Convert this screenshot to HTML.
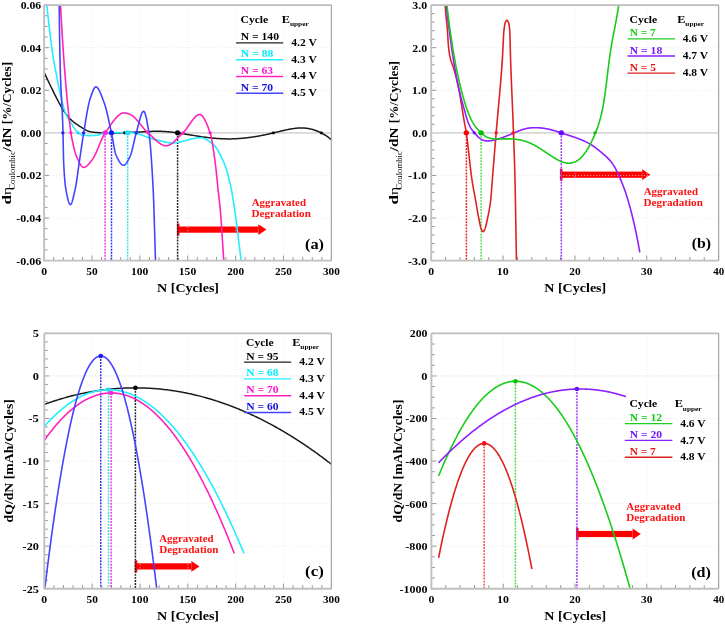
<!DOCTYPE html><html><head><meta charset="utf-8"><style>html,body{margin:0;padding:0;background:#fff;width:725px;height:624px;overflow:hidden;position:relative}</style></head><body><svg width="725" height="624" viewBox="0 0 725 624" style="position:absolute;left:0;top:0;will-change:transform;font-family:'Liberation Serif',serif;font-weight:bold">
<rect width="725" height="624" fill="#ffffff"/>
<rect x="176.90" y="223.50" width="2.6" height="12.2" fill="#ee1122"/>
<rect x="177.50" y="226.50" width="80.80" height="6.2" fill="#ff0000"/>
<path d="M258.30,224.20 L266.50,229.60 L258.30,235.00 Z" fill="#ff0000"/>
<line x1="91.98" y1="5.1" x2="91.98" y2="260.6" stroke="#e6e6e6" stroke-width="0.8" stroke-dasharray="1 2"/>
<line x1="139.87" y1="5.1" x2="139.87" y2="260.6" stroke="#e6e6e6" stroke-width="0.8" stroke-dasharray="1 2"/>
<line x1="187.75" y1="5.1" x2="187.75" y2="260.6" stroke="#e6e6e6" stroke-width="0.8" stroke-dasharray="1 2"/>
<line x1="235.63" y1="5.1" x2="235.63" y2="260.6" stroke="#e6e6e6" stroke-width="0.8" stroke-dasharray="1 2"/>
<line x1="283.52" y1="5.1" x2="283.52" y2="260.6" stroke="#e6e6e6" stroke-width="0.8" stroke-dasharray="1 2"/>
<line x1="44.1" y1="218.02" x2="331.4" y2="218.02" stroke="#e6e6e6" stroke-width="0.8" stroke-dasharray="1 2"/>
<line x1="44.1" y1="175.43" x2="331.4" y2="175.43" stroke="#e6e6e6" stroke-width="0.8" stroke-dasharray="1 2"/>
<line x1="44.1" y1="132.85" x2="331.4" y2="132.85" stroke="#e6e6e6" stroke-width="0.8" stroke-dasharray="1 2"/>
<line x1="44.1" y1="90.27" x2="331.4" y2="90.27" stroke="#e6e6e6" stroke-width="0.8" stroke-dasharray="1 2"/>
<line x1="44.1" y1="47.68" x2="331.4" y2="47.68" stroke="#e6e6e6" stroke-width="0.8" stroke-dasharray="1 2"/>
<line x1="44.10" y1="260.6" x2="44.10" y2="255.60000000000002" stroke="#8a8a8a" stroke-width="0.9"/>
<line x1="53.68" y1="260.6" x2="53.68" y2="257.1" stroke="#8a8a8a" stroke-width="0.9"/>
<line x1="63.25" y1="260.6" x2="63.25" y2="257.1" stroke="#8a8a8a" stroke-width="0.9"/>
<line x1="72.83" y1="260.6" x2="72.83" y2="257.1" stroke="#8a8a8a" stroke-width="0.9"/>
<line x1="82.41" y1="260.6" x2="82.41" y2="257.1" stroke="#8a8a8a" stroke-width="0.9"/>
<line x1="91.98" y1="260.6" x2="91.98" y2="255.60000000000002" stroke="#8a8a8a" stroke-width="0.9"/>
<line x1="101.56" y1="260.6" x2="101.56" y2="257.1" stroke="#8a8a8a" stroke-width="0.9"/>
<line x1="111.14" y1="260.6" x2="111.14" y2="257.1" stroke="#8a8a8a" stroke-width="0.9"/>
<line x1="120.71" y1="260.6" x2="120.71" y2="257.1" stroke="#8a8a8a" stroke-width="0.9"/>
<line x1="130.29" y1="260.6" x2="130.29" y2="257.1" stroke="#8a8a8a" stroke-width="0.9"/>
<line x1="139.87" y1="260.6" x2="139.87" y2="255.60000000000002" stroke="#8a8a8a" stroke-width="0.9"/>
<line x1="149.44" y1="260.6" x2="149.44" y2="257.1" stroke="#8a8a8a" stroke-width="0.9"/>
<line x1="159.02" y1="260.6" x2="159.02" y2="257.1" stroke="#8a8a8a" stroke-width="0.9"/>
<line x1="168.60" y1="260.6" x2="168.60" y2="257.1" stroke="#8a8a8a" stroke-width="0.9"/>
<line x1="178.17" y1="260.6" x2="178.17" y2="257.1" stroke="#8a8a8a" stroke-width="0.9"/>
<line x1="187.75" y1="260.6" x2="187.75" y2="255.60000000000002" stroke="#8a8a8a" stroke-width="0.9"/>
<line x1="197.33" y1="260.6" x2="197.33" y2="257.1" stroke="#8a8a8a" stroke-width="0.9"/>
<line x1="206.90" y1="260.6" x2="206.90" y2="257.1" stroke="#8a8a8a" stroke-width="0.9"/>
<line x1="216.48" y1="260.6" x2="216.48" y2="257.1" stroke="#8a8a8a" stroke-width="0.9"/>
<line x1="226.06" y1="260.6" x2="226.06" y2="257.1" stroke="#8a8a8a" stroke-width="0.9"/>
<line x1="235.63" y1="260.6" x2="235.63" y2="255.60000000000002" stroke="#8a8a8a" stroke-width="0.9"/>
<line x1="245.21" y1="260.6" x2="245.21" y2="257.1" stroke="#8a8a8a" stroke-width="0.9"/>
<line x1="254.79" y1="260.6" x2="254.79" y2="257.1" stroke="#8a8a8a" stroke-width="0.9"/>
<line x1="264.36" y1="260.6" x2="264.36" y2="257.1" stroke="#8a8a8a" stroke-width="0.9"/>
<line x1="273.94" y1="260.6" x2="273.94" y2="257.1" stroke="#8a8a8a" stroke-width="0.9"/>
<line x1="283.52" y1="260.6" x2="283.52" y2="255.60000000000002" stroke="#8a8a8a" stroke-width="0.9"/>
<line x1="293.09" y1="260.6" x2="293.09" y2="257.1" stroke="#8a8a8a" stroke-width="0.9"/>
<line x1="302.67" y1="260.6" x2="302.67" y2="257.1" stroke="#8a8a8a" stroke-width="0.9"/>
<line x1="312.25" y1="260.6" x2="312.25" y2="257.1" stroke="#8a8a8a" stroke-width="0.9"/>
<line x1="321.82" y1="260.6" x2="321.82" y2="257.1" stroke="#8a8a8a" stroke-width="0.9"/>
<line x1="331.40" y1="260.6" x2="331.40" y2="255.60000000000002" stroke="#8a8a8a" stroke-width="0.9"/>
<line x1="44.1" y1="260.60" x2="49.1" y2="260.60" stroke="#8a8a8a" stroke-width="0.9"/>
<line x1="44.1" y1="249.95" x2="47.6" y2="249.95" stroke="#8a8a8a" stroke-width="0.9"/>
<line x1="44.1" y1="239.31" x2="47.6" y2="239.31" stroke="#8a8a8a" stroke-width="0.9"/>
<line x1="44.1" y1="228.66" x2="47.6" y2="228.66" stroke="#8a8a8a" stroke-width="0.9"/>
<line x1="44.1" y1="218.02" x2="49.1" y2="218.02" stroke="#8a8a8a" stroke-width="0.9"/>
<line x1="44.1" y1="207.37" x2="47.6" y2="207.37" stroke="#8a8a8a" stroke-width="0.9"/>
<line x1="44.1" y1="196.73" x2="47.6" y2="196.73" stroke="#8a8a8a" stroke-width="0.9"/>
<line x1="44.1" y1="186.08" x2="47.6" y2="186.08" stroke="#8a8a8a" stroke-width="0.9"/>
<line x1="44.1" y1="175.43" x2="49.1" y2="175.43" stroke="#8a8a8a" stroke-width="0.9"/>
<line x1="44.1" y1="164.79" x2="47.6" y2="164.79" stroke="#8a8a8a" stroke-width="0.9"/>
<line x1="44.1" y1="154.14" x2="47.6" y2="154.14" stroke="#8a8a8a" stroke-width="0.9"/>
<line x1="44.1" y1="143.50" x2="47.6" y2="143.50" stroke="#8a8a8a" stroke-width="0.9"/>
<line x1="44.1" y1="132.85" x2="49.1" y2="132.85" stroke="#8a8a8a" stroke-width="0.9"/>
<line x1="44.1" y1="122.20" x2="47.6" y2="122.20" stroke="#8a8a8a" stroke-width="0.9"/>
<line x1="44.1" y1="111.56" x2="47.6" y2="111.56" stroke="#8a8a8a" stroke-width="0.9"/>
<line x1="44.1" y1="100.91" x2="47.6" y2="100.91" stroke="#8a8a8a" stroke-width="0.9"/>
<line x1="44.1" y1="90.27" x2="49.1" y2="90.27" stroke="#8a8a8a" stroke-width="0.9"/>
<line x1="44.1" y1="79.62" x2="47.6" y2="79.62" stroke="#8a8a8a" stroke-width="0.9"/>
<line x1="44.1" y1="68.97" x2="47.6" y2="68.97" stroke="#8a8a8a" stroke-width="0.9"/>
<line x1="44.1" y1="58.33" x2="47.6" y2="58.33" stroke="#8a8a8a" stroke-width="0.9"/>
<line x1="44.1" y1="47.68" x2="49.1" y2="47.68" stroke="#8a8a8a" stroke-width="0.9"/>
<line x1="44.1" y1="37.04" x2="47.6" y2="37.04" stroke="#8a8a8a" stroke-width="0.9"/>
<line x1="44.1" y1="26.39" x2="47.6" y2="26.39" stroke="#8a8a8a" stroke-width="0.9"/>
<line x1="44.1" y1="15.75" x2="47.6" y2="15.75" stroke="#8a8a8a" stroke-width="0.9"/>
<line x1="44.1" y1="5.10" x2="49.1" y2="5.10" stroke="#8a8a8a" stroke-width="0.9"/>
<clipPath id="ca"><rect x="44.1" y="5.1" width="287.29999999999995" height="255.50000000000003"/></clipPath>
<line x1="44.1" y1="132.85" x2="331.4" y2="132.85" stroke="#d8d8d8" stroke-width="1.6"/>
<line x1="105.10" y1="132.85" x2="105.10" y2="260.60" stroke="#ff33dd" stroke-width="1.5" stroke-dasharray="1.9 1.15"/>
<line x1="111.50" y1="132.85" x2="111.50" y2="260.60" stroke="#3333ee" stroke-width="1.5" stroke-dasharray="1.9 1.15"/>
<line x1="127.65" y1="132.85" x2="127.65" y2="260.60" stroke="#33ddee" stroke-width="1.5" stroke-dasharray="1.9 1.15"/>
<line x1="177.60" y1="132.85" x2="177.60" y2="260.60" stroke="#222222" stroke-width="1.5" stroke-dasharray="1.9 1.15"/>
<path d="M44.10,72.30 L44.82,73.84 L45.54,75.37 L46.26,76.91 L46.98,78.43 L47.70,79.95 L48.42,81.47 L49.14,82.98 L49.86,84.48 L50.58,85.97 L51.30,87.46 L52.02,88.94 L52.74,90.41 L53.46,91.87 L54.18,93.32 L54.90,94.76 L55.62,96.19 L56.34,97.60 L57.06,99.01 L57.78,100.40 L58.50,101.77 L59.22,103.12 L59.94,104.44 L60.66,105.74 L61.38,107.00 L62.10,108.22 L62.82,109.40 L63.54,110.53 L64.26,111.62 L64.98,112.65 L65.70,113.65 L66.42,114.60 L67.14,115.50 L67.86,116.37 L68.58,117.20 L69.30,117.98 L70.02,118.74 L70.74,119.45 L71.46,120.14 L72.18,120.79 L72.90,121.41 L73.62,122.01 L74.34,122.58 L75.06,123.13 L75.78,123.66 L76.50,124.17 L77.22,124.67 L77.94,125.15 L78.66,125.62 L79.38,126.08 L80.10,126.53 L80.82,126.97 L81.54,127.42 L82.26,127.86 L82.98,128.29 L83.70,128.73 L84.42,129.16 L85.14,129.58 L85.86,129.97 L86.58,130.34 L87.30,130.69 L88.02,130.99 L88.74,131.26 L89.46,131.48 L90.18,131.67 L90.90,131.83 L91.62,131.97 L92.34,132.08 L93.06,132.17 L93.78,132.25 L94.50,132.32 L95.22,132.39 L95.94,132.46 L96.66,132.53 L97.38,132.60 L98.10,132.67 L98.82,132.74 L99.54,132.81 L100.26,132.87 L100.98,132.93 L101.70,132.99 L102.42,133.05 L103.14,133.10 L103.86,133.15 L104.58,133.19 L105.30,133.22 L106.02,133.25 L106.74,133.28 L107.46,133.29 L108.18,133.30 L108.90,133.31 L109.62,133.31 L110.34,133.31 L111.06,133.30 L111.78,133.29 L112.50,133.27 L113.22,133.25 L113.94,133.22 L114.66,133.19 L115.38,133.16 L116.11,133.12 L116.83,133.08 L117.55,133.03 L118.27,132.99 L118.99,132.94 L119.71,132.89 L120.43,132.84 L121.15,132.79 L121.87,132.73 L122.59,132.68 L123.31,132.64 L124.03,132.59 L124.75,132.55 L125.47,132.51 L126.19,132.47 L126.91,132.44 L127.63,132.41 L128.35,132.38 L129.07,132.35 L129.79,132.33 L130.51,132.31 L131.23,132.28 L131.95,132.26 L132.67,132.24 L133.39,132.22 L134.11,132.20 L134.83,132.18 L135.55,132.16 L136.27,132.14 L136.99,132.12 L137.71,132.09 L138.43,132.07 L139.15,132.04 L139.87,132.01 L140.59,131.97 L141.31,131.94 L142.03,131.90 L142.75,131.86 L143.47,131.82 L144.19,131.78 L144.91,131.73 L145.63,131.69 L146.35,131.65 L147.07,131.61 L147.79,131.56 L148.51,131.52 L149.23,131.49 L149.95,131.45 L150.67,131.42 L151.39,131.38 L152.11,131.36 L152.83,131.33 L153.55,131.31 L154.27,131.29 L154.99,131.28 L155.71,131.27 L156.43,131.27 L157.15,131.27 L157.87,131.28 L158.59,131.29 L159.31,131.30 L160.03,131.32 L160.75,131.34 L161.47,131.36 L162.19,131.39 L162.91,131.43 L163.63,131.46 L164.35,131.51 L165.07,131.55 L165.79,131.60 L166.51,131.65 L167.23,131.70 L167.95,131.76 L168.67,131.82 L169.39,131.89 L170.11,131.96 L170.83,132.03 L171.55,132.10 L172.27,132.18 L172.99,132.26 L173.71,132.35 L174.43,132.43 L175.15,132.52 L175.87,132.62 L176.59,132.71 L177.31,132.81 L178.03,132.91 L178.75,133.01 L179.47,133.12 L180.19,133.23 L180.91,133.34 L181.63,133.45 L182.35,133.56 L183.07,133.68 L183.79,133.79 L184.51,133.91 L185.23,134.03 L185.95,134.15 L186.67,134.27 L187.39,134.40 L188.11,134.52 L188.83,134.64 L189.55,134.76 L190.27,134.89 L190.99,135.01 L191.71,135.14 L192.43,135.26 L193.15,135.38 L193.87,135.50 L194.59,135.63 L195.31,135.75 L196.03,135.87 L196.75,135.98 L197.47,136.10 L198.19,136.22 L198.91,136.33 L199.63,136.44 L200.35,136.55 L201.07,136.66 L201.79,136.77 L202.51,136.87 L203.23,136.97 L203.95,137.07 L204.67,137.17 L205.39,137.27 L206.11,137.36 L206.83,137.45 L207.55,137.54 L208.27,137.63 L208.99,137.71 L209.71,137.79 L210.43,137.87 L211.15,137.95 L211.87,138.02 L212.59,138.09 L213.31,138.16 L214.03,138.22 L214.75,138.29 L215.47,138.35 L216.19,138.40 L216.91,138.46 L217.63,138.51 L218.35,138.56 L219.07,138.60 L219.79,138.65 L220.51,138.69 L221.23,138.72 L221.95,138.76 L222.67,138.79 L223.39,138.81 L224.11,138.84 L224.83,138.86 L225.55,138.87 L226.27,138.89 L226.99,138.90 L227.71,138.90 L228.43,138.91 L229.15,138.91 L229.87,138.90 L230.59,138.89 L231.31,138.88 L232.03,138.87 L232.75,138.85 L233.47,138.83 L234.19,138.80 L234.91,138.77 L235.63,138.74 L236.35,138.70 L237.07,138.66 L237.79,138.62 L238.51,138.58 L239.23,138.53 L239.95,138.47 L240.67,138.42 L241.39,138.36 L242.11,138.30 L242.83,138.23 L243.55,138.16 L244.27,138.09 L244.99,138.02 L245.71,137.94 L246.43,137.86 L247.15,137.77 L247.87,137.69 L248.59,137.59 L249.31,137.50 L250.03,137.41 L250.75,137.31 L251.47,137.20 L252.19,137.10 L252.91,136.99 L253.63,136.88 L254.35,136.77 L255.07,136.65 L255.79,136.53 L256.51,136.41 L257.23,136.29 L257.95,136.16 L258.67,136.03 L259.39,135.90 L260.12,135.77 L260.84,135.63 L261.56,135.50 L262.28,135.35 L263.00,135.21 L263.72,135.07 L264.44,134.92 L265.16,134.77 L265.88,134.62 L266.60,134.47 L267.32,134.31 L268.04,134.15 L268.76,133.99 L269.48,133.83 L270.20,133.67 L270.92,133.51 L271.64,133.34 L272.36,133.17 L273.08,133.00 L273.80,132.83 L274.52,132.66 L275.24,132.49 L275.96,132.31 L276.68,132.14 L277.40,131.96 L278.12,131.79 L278.84,131.61 L279.56,131.44 L280.28,131.26 L281.00,131.09 L281.72,130.92 L282.44,130.75 L283.16,130.58 L283.88,130.42 L284.60,130.26 L285.32,130.10 L286.04,129.94 L286.76,129.79 L287.48,129.64 L288.20,129.50 L288.92,129.36 L289.64,129.22 L290.36,129.09 L291.08,128.96 L291.80,128.84 L292.52,128.73 L293.24,128.62 L293.96,128.52 L294.68,128.42 L295.40,128.34 L296.12,128.26 L296.84,128.18 L297.56,128.12 L298.28,128.06 L299.00,128.02 L299.72,127.98 L300.44,127.96 L301.16,127.95 L301.88,127.95 L302.60,127.96 L303.32,127.98 L304.04,128.02 L304.76,128.07 L305.48,128.13 L306.20,128.21 L306.92,128.30 L307.64,128.41 L308.36,128.53 L309.08,128.66 L309.80,128.80 L310.52,128.96 L311.24,129.14 L311.96,129.32 L312.68,129.52 L313.40,129.73 L314.12,129.95 L314.84,130.19 L315.56,130.44 L316.28,130.71 L317.00,130.99 L317.72,131.28 L318.44,131.59 L319.16,131.91 L319.88,132.24 L320.60,132.60 L321.32,132.96 L322.04,133.34 L322.76,133.73 L323.48,134.14 L324.20,134.57 L324.92,135.01 L325.64,135.47 L326.36,135.94 L327.08,136.43 L327.80,136.93 L328.52,137.45 L329.24,137.99 L329.96,138.54 L330.68,139.11 L331.40,139.70" stroke="#1a1a1a" stroke-width="1.5" fill="none" stroke-linejoin="round" clip-path="url(#ca)"/>
<path d="M46.90,5.20 L47.39,10.13 L47.88,14.92 L48.37,19.55 L48.87,24.05 L49.36,28.40 L49.85,32.60 L50.34,36.66 L50.83,40.58 L51.32,44.36 L51.81,47.99 L52.31,51.48 L52.80,54.83 L53.29,58.04 L53.78,61.10 L54.27,63.94 L54.76,66.58 L55.26,69.08 L55.75,71.50 L56.24,73.90 L56.73,76.34 L57.22,78.85 L57.71,81.40 L58.20,83.95 L58.70,86.48 L59.19,88.95 L59.68,91.34 L60.17,93.61 L60.66,95.74 L61.15,97.76 L61.64,99.77 L62.14,101.74 L62.63,103.65 L63.12,105.50 L63.61,107.27 L64.10,108.95 L64.59,110.52 L65.08,111.96 L65.58,113.26 L66.07,114.42 L66.56,115.48 L67.05,116.47 L67.54,117.39 L68.03,118.26 L68.53,119.08 L69.02,119.88 L69.51,120.65 L70.00,121.41 L70.49,122.16 L70.98,122.93 L71.47,123.71 L71.97,124.50 L72.46,125.30 L72.95,126.09 L73.44,126.87 L73.93,127.63 L74.42,128.36 L74.91,129.06 L75.41,129.73 L75.90,130.35 L76.39,130.91 L76.88,131.42 L77.37,131.86 L77.86,132.27 L78.35,132.68 L78.85,133.07 L79.34,133.44 L79.83,133.79 L80.32,134.11 L80.81,134.39 L81.30,134.63 L81.79,134.82 L82.29,134.96 L82.78,135.05 L83.27,135.12 L83.76,135.20 L84.25,135.26 L84.74,135.33 L85.24,135.38 L85.73,135.44 L86.22,135.48 L86.71,135.52 L87.20,135.55 L87.69,135.57 L88.18,135.59 L88.68,135.60 L89.17,135.60 L89.66,135.60 L90.15,135.59 L90.64,135.58 L91.13,135.57 L91.62,135.56 L92.12,135.54 L92.61,135.52 L93.10,135.50 L93.59,135.48 L94.08,135.45 L94.57,135.43 L95.06,135.40 L95.56,135.37 L96.05,135.34 L96.54,135.30 L97.03,135.26 L97.52,135.18 L98.01,135.07 L98.51,134.94 L99.00,134.79 L99.49,134.64 L99.98,134.47 L100.47,134.31 L100.96,134.14 L101.45,133.99 L101.95,133.85 L102.44,133.73 L102.93,133.64 L103.42,133.57 L103.91,133.51 L104.40,133.45 L104.89,133.40 L105.39,133.35 L105.88,133.30 L106.37,133.25 L106.86,133.20 L107.35,133.16 L107.84,133.12 L108.33,133.08 L108.83,133.04 L109.32,133.01 L109.81,132.97 L110.30,132.94 L110.79,132.91 L111.28,132.89 L111.78,132.86 L112.27,132.84 L112.76,132.81 L113.25,132.79 L113.74,132.77 L114.23,132.75 L114.72,132.73 L115.22,132.71 L115.71,132.69 L116.20,132.67 L116.69,132.66 L117.18,132.64 L117.67,132.62 L118.16,132.60 L118.66,132.58 L119.15,132.57 L119.64,132.55 L120.13,132.54 L120.62,132.52 L121.11,132.51 L121.60,132.49 L122.10,132.48 L122.59,132.47 L123.08,132.46 L123.57,132.45 L124.06,132.44 L124.55,132.43 L125.05,132.42 L125.54,132.42 L126.03,132.41 L126.52,132.41 L127.01,132.40 L127.50,132.40 L127.99,132.40 L128.49,132.41 L128.98,132.42 L129.47,132.45 L129.96,132.49 L130.45,132.54 L130.94,132.60 L131.43,132.66 L131.93,132.74 L132.42,132.82 L132.91,132.91 L133.40,133.00 L133.89,133.10 L134.38,133.20 L134.87,133.31 L135.37,133.42 L135.86,133.53 L136.35,133.65 L136.84,133.77 L137.33,133.88 L137.82,134.00 L138.32,134.12 L138.81,134.23 L139.30,134.35 L139.79,134.47 L140.28,134.61 L140.77,134.75 L141.26,134.91 L141.76,135.07 L142.25,135.25 L142.74,135.42 L143.23,135.61 L143.72,135.80 L144.21,135.99 L144.70,136.18 L145.20,136.38 L145.69,136.57 L146.18,136.77 L146.67,136.96 L147.16,137.15 L147.65,137.34 L148.14,137.52 L148.64,137.69 L149.13,137.86 L149.62,138.02 L150.11,138.17 L150.60,138.32 L151.09,138.46 L151.58,138.60 L152.08,138.74 L152.57,138.88 L153.06,139.01 L153.55,139.14 L154.04,139.28 L154.53,139.41 L155.03,139.53 L155.52,139.66 L156.01,139.78 L156.50,139.91 L156.99,140.03 L157.48,140.15 L157.97,140.27 L158.47,140.38 L158.96,140.50 L159.45,140.61 L159.94,140.72 L160.43,140.83 L160.92,140.94 L161.41,141.05 L161.91,141.16 L162.40,141.28 L162.89,141.40 L163.38,141.52 L163.87,141.65 L164.36,141.77 L164.85,141.90 L165.35,142.02 L165.84,142.14 L166.33,142.26 L166.82,142.37 L167.31,142.48 L167.80,142.58 L168.30,142.67 L168.79,142.75 L169.28,142.82 L169.77,142.89 L170.26,142.93 L170.75,142.97 L171.24,142.99 L171.74,143.00 L172.23,142.99 L172.72,142.98 L173.21,142.96 L173.70,142.93 L174.19,142.89 L174.68,142.84 L175.18,142.79 L175.67,142.73 L176.16,142.66 L176.65,142.59 L177.14,142.51 L177.63,142.42 L178.12,142.33 L178.62,142.24 L179.11,142.14 L179.60,142.03 L180.09,141.92 L180.58,141.81 L181.07,141.69 L181.57,141.57 L182.06,141.45 L182.55,141.33 L183.04,141.20 L183.53,141.07 L184.02,140.94 L184.51,140.81 L185.01,140.67 L185.50,140.54 L185.99,140.41 L186.48,140.27 L186.97,140.14 L187.46,140.00 L187.95,139.87 L188.45,139.74 L188.94,139.61 L189.43,139.48 L189.92,139.35 L190.41,139.23 L190.90,139.11 L191.39,138.99 L191.89,138.88 L192.38,138.77 L192.87,138.66 L193.36,138.56 L193.85,138.46 L194.34,138.37 L194.84,138.28 L195.33,138.20 L195.82,138.12 L196.31,138.05 L196.80,137.99 L197.29,137.93 L197.78,137.88 L198.28,137.84 L198.77,137.80 L199.26,137.78 L199.75,137.76 L200.24,137.75 L200.73,137.75 L201.22,137.78 L201.72,137.84 L202.21,137.92 L202.70,138.02 L203.19,138.15 L203.68,138.31 L204.17,138.48 L204.66,138.68 L205.16,138.90 L205.65,139.13 L206.14,139.39 L206.63,139.66 L207.12,139.95 L207.61,140.25 L208.11,140.57 L208.60,140.90 L209.09,141.24 L209.58,141.59 L210.07,141.95 L210.56,142.32 L211.05,142.70 L211.55,143.08 L212.04,143.48 L212.53,143.87 L213.02,144.27 L213.51,144.68 L214.00,145.13 L214.49,145.63 L214.99,146.19 L215.48,146.79 L215.97,147.43 L216.46,148.12 L216.95,148.86 L217.44,149.63 L217.93,150.44 L218.43,151.28 L218.92,152.16 L219.41,153.07 L219.90,154.01 L220.39,154.98 L220.88,155.97 L221.37,156.99 L221.87,158.03 L222.36,159.09 L222.85,160.17 L223.34,161.27 L223.83,162.45 L224.32,163.69 L224.82,165.00 L225.31,166.38 L225.80,167.83 L226.29,169.35 L226.78,170.93 L227.27,172.59 L227.76,174.31 L228.26,176.10 L228.75,177.96 L229.24,179.88 L229.73,181.88 L230.22,183.95 L230.71,186.23 L231.20,188.69 L231.70,191.34 L232.19,194.14 L232.68,197.07 L233.17,200.10 L233.66,203.22 L234.15,206.41 L234.64,209.64 L235.14,212.96 L235.63,216.46 L236.12,220.12 L236.61,223.92 L237.10,227.83 L237.59,231.82 L238.09,235.87 L238.58,239.95 L239.07,244.04 L239.56,248.12 L240.05,252.15 L240.54,256.12 L241.03,259.99 L241.53,263.78 L242.02,267.54 L242.51,271.28 L243.00,275.00" stroke="#22eeff" stroke-width="1.6" fill="none" stroke-linejoin="round" clip-path="url(#ca)"/>
<path d="M60.50,5.20 L60.91,12.62 L61.32,19.84 L61.74,26.86 L62.15,33.67 L62.56,40.26 L62.97,46.61 L63.39,52.73 L63.80,58.59 L64.21,64.22 L64.62,69.66 L65.04,74.91 L65.45,79.98 L65.86,84.86 L66.27,89.57 L66.68,94.11 L67.10,98.46 L67.51,102.72 L67.92,106.92 L68.33,111.04 L68.75,115.04 L69.16,118.89 L69.57,122.56 L69.98,126.02 L70.39,129.24 L70.81,132.18 L71.22,134.81 L71.63,137.15 L72.04,139.25 L72.46,141.21 L72.87,143.15 L73.28,145.04 L73.69,146.88 L74.11,148.63 L74.52,150.28 L74.93,151.80 L75.34,153.17 L75.75,154.37 L76.17,155.40 L76.58,156.39 L76.99,157.37 L77.40,158.34 L77.82,159.29 L78.23,160.22 L78.64,161.11 L79.05,161.97 L79.46,162.79 L79.88,163.56 L80.29,164.28 L80.70,164.94 L81.11,165.53 L81.53,166.05 L81.94,166.50 L82.35,166.86 L82.76,167.13 L83.18,167.32 L83.59,167.40 L84.00,167.38 L84.41,167.31 L84.82,167.19 L85.24,167.01 L85.65,166.79 L86.06,166.52 L86.47,166.22 L86.89,165.88 L87.30,165.50 L87.71,165.10 L88.12,164.66 L88.54,164.21 L88.95,163.74 L89.36,163.25 L89.77,162.75 L90.18,162.24 L90.60,161.73 L91.01,161.22 L91.42,160.71 L91.83,160.20 L92.25,159.69 L92.66,159.13 L93.07,158.52 L93.48,157.85 L93.89,157.14 L94.31,156.39 L94.72,155.59 L95.13,154.76 L95.54,153.90 L95.96,153.00 L96.37,152.08 L96.78,151.14 L97.19,150.18 L97.61,149.21 L98.02,148.22 L98.43,147.23 L98.84,146.23 L99.25,145.23 L99.67,144.23 L100.08,143.24 L100.49,142.26 L100.90,141.29 L101.32,140.34 L101.73,139.41 L102.14,138.51 L102.55,137.63 L102.96,136.78 L103.38,135.96 L103.79,135.19 L104.20,134.45 L104.61,133.77 L105.03,133.13 L105.44,132.53 L105.85,131.94 L106.26,131.34 L106.68,130.75 L107.09,130.14 L107.50,129.54 L107.91,128.93 L108.32,128.32 L108.74,127.72 L109.15,127.11 L109.56,126.51 L109.97,125.91 L110.39,125.31 L110.80,124.72 L111.21,124.13 L111.62,123.55 L112.04,122.97 L112.45,122.40 L112.86,121.84 L113.27,121.29 L113.68,120.75 L114.10,120.22 L114.51,119.71 L114.92,119.20 L115.33,118.71 L115.75,118.23 L116.16,117.77 L116.57,117.32 L116.98,116.89 L117.39,116.48 L117.81,116.08 L118.22,115.71 L118.63,115.35 L119.04,115.02 L119.46,114.70 L119.87,114.41 L120.28,114.14 L120.69,113.90 L121.11,113.68 L121.52,113.48 L121.93,113.32 L122.34,113.18 L122.75,113.06 L123.17,112.98 L123.58,112.92 L123.99,112.90 L124.40,112.91 L124.82,112.93 L125.23,112.98 L125.64,113.04 L126.05,113.12 L126.46,113.22 L126.88,113.33 L127.29,113.45 L127.70,113.58 L128.11,113.72 L128.53,113.86 L128.94,114.01 L129.35,114.16 L129.76,114.31 L130.18,114.47 L130.59,114.65 L131.00,114.85 L131.41,115.08 L131.82,115.34 L132.24,115.61 L132.65,115.91 L133.06,116.24 L133.47,116.58 L133.89,116.94 L134.30,117.32 L134.71,117.71 L135.12,118.12 L135.54,118.55 L135.95,118.99 L136.36,119.44 L136.77,119.90 L137.18,120.38 L137.60,120.86 L138.01,121.35 L138.42,121.85 L138.83,122.36 L139.25,122.86 L139.66,123.38 L140.07,123.89 L140.48,124.41 L140.89,124.93 L141.31,125.45 L141.72,125.96 L142.13,126.48 L142.54,126.98 L142.96,127.49 L143.37,127.99 L143.78,128.48 L144.19,128.96 L144.61,129.44 L145.02,129.90 L145.43,130.35 L145.84,130.79 L146.25,131.22 L146.67,131.63 L147.08,132.03 L147.49,132.41 L147.90,132.77 L148.32,133.12 L148.73,133.48 L149.14,133.84 L149.55,134.21 L149.96,134.59 L150.38,134.97 L150.79,135.36 L151.20,135.75 L151.61,136.14 L152.03,136.54 L152.44,136.94 L152.85,137.33 L153.26,137.73 L153.68,138.13 L154.09,138.52 L154.50,138.91 L154.91,139.30 L155.32,139.68 L155.74,140.06 L156.15,140.44 L156.56,140.81 L156.97,141.17 L157.39,141.52 L157.80,141.86 L158.21,142.20 L158.62,142.52 L159.04,142.84 L159.45,143.14 L159.86,143.43 L160.27,143.71 L160.68,143.97 L161.10,144.22 L161.51,144.46 L161.92,144.67 L162.33,144.87 L162.75,145.06 L163.16,145.22 L163.57,145.37 L163.98,145.49 L164.39,145.60 L164.81,145.68 L165.22,145.75 L165.63,145.78 L166.04,145.80 L166.46,145.79 L166.87,145.75 L167.28,145.69 L167.69,145.60 L168.11,145.48 L168.52,145.34 L168.93,145.18 L169.34,145.00 L169.75,144.79 L170.17,144.57 L170.58,144.32 L170.99,144.06 L171.40,143.78 L171.82,143.48 L172.23,143.17 L172.64,142.85 L173.05,142.51 L173.46,142.15 L173.88,141.79 L174.29,141.42 L174.70,141.03 L175.11,140.64 L175.53,140.24 L175.94,139.84 L176.35,139.42 L176.76,139.01 L177.18,138.58 L177.59,138.16 L178.00,137.73 L178.41,137.31 L178.82,136.88 L179.24,136.45 L179.65,136.03 L180.06,135.61 L180.47,135.19 L180.89,134.77 L181.30,134.37 L181.71,133.96 L182.12,133.57 L182.54,133.18 L182.95,132.81 L183.36,132.42 L183.77,132.00 L184.18,131.55 L184.60,131.09 L185.01,130.60 L185.42,130.09 L185.83,129.56 L186.25,129.02 L186.66,128.46 L187.07,127.89 L187.48,127.31 L187.89,126.72 L188.31,126.12 L188.72,125.52 L189.13,124.92 L189.54,124.32 L189.96,123.71 L190.37,123.11 L190.78,122.52 L191.19,121.93 L191.61,121.35 L192.02,120.78 L192.43,120.22 L192.84,119.68 L193.25,119.15 L193.67,118.65 L194.08,118.16 L194.49,117.69 L194.90,117.25 L195.32,116.83 L195.73,116.44 L196.14,116.09 L196.55,115.76 L196.96,115.46 L197.38,115.21 L197.79,114.98 L198.20,114.80 L198.61,114.66 L199.03,114.56 L199.44,114.51 L199.85,114.51 L200.26,114.57 L200.68,114.71 L201.09,114.93 L201.50,115.21 L201.91,115.57 L202.32,115.98 L202.74,116.47 L203.15,117.01 L203.56,117.61 L203.97,118.26 L204.39,118.97 L204.80,119.72 L205.21,120.53 L205.62,121.38 L206.04,122.27 L206.45,123.21 L206.86,124.18 L207.27,125.18 L207.68,126.22 L208.10,127.30 L208.51,128.39 L208.92,129.52 L209.33,130.66 L209.75,131.83 L210.16,133.02 L210.57,134.38 L210.98,136.00 L211.39,137.85 L211.81,139.92 L212.22,142.19 L212.63,144.64 L213.04,147.25 L213.46,150.02 L213.87,152.91 L214.28,155.90 L214.69,159.00 L215.11,162.16 L215.52,165.39 L215.93,168.65 L216.34,172.05 L216.75,176.01 L217.17,180.32 L217.58,184.72 L217.99,188.95 L218.40,192.79 L218.82,196.36 L219.23,199.84 L219.64,203.46 L220.05,207.40 L220.46,211.87 L220.88,217.05 L221.29,222.81 L221.70,228.97 L222.11,235.38 L222.53,241.86 L222.94,248.23 L223.35,254.35 L223.76,260.02 L224.18,265.24 L224.59,270.21 L225.00,275.00" stroke="#ff22bb" stroke-width="1.6" fill="none" stroke-linejoin="round" clip-path="url(#ca)"/>
<path d="M59.20,5.20 L59.44,24.40 L59.69,42.50 L59.93,56.85 L60.17,66.34 L60.41,74.15 L60.66,80.76 L60.90,86.41 L61.14,91.37 L61.38,95.87 L61.63,100.18 L61.87,104.53 L62.11,109.18 L62.35,114.38 L62.60,120.38 L62.84,127.42 L63.08,136.28 L63.32,150.18 L63.57,160.38 L63.81,165.47 L64.05,169.95 L64.29,173.88 L64.54,177.29 L64.78,180.25 L65.02,182.81 L65.27,185.00 L65.51,186.90 L65.75,188.53 L65.99,189.96 L66.24,191.29 L66.48,192.58 L66.72,193.83 L66.96,195.04 L67.21,196.20 L67.45,197.30 L67.69,198.35 L67.93,199.34 L68.18,200.25 L68.42,201.09 L68.66,201.86 L68.90,202.54 L69.15,203.13 L69.39,203.63 L69.63,204.03 L69.87,204.33 L70.12,204.52 L70.36,204.60 L70.60,204.55 L70.85,204.38 L71.09,204.09 L71.33,203.69 L71.57,203.19 L71.82,202.59 L72.06,201.91 L72.30,201.15 L72.54,200.32 L72.79,199.43 L73.03,198.49 L73.27,197.51 L73.51,196.50 L73.76,195.45 L74.00,194.39 L74.24,193.32 L74.48,192.25 L74.73,191.18 L74.97,190.13 L75.21,189.05 L75.45,187.87 L75.70,186.59 L75.94,185.22 L76.18,183.77 L76.43,182.25 L76.67,180.67 L76.91,179.04 L77.15,177.36 L77.40,175.65 L77.64,173.91 L77.88,172.16 L78.12,170.39 L78.37,168.63 L78.61,166.88 L78.85,165.14 L79.09,163.44 L79.34,161.76 L79.58,160.14 L79.82,158.53 L80.06,156.91 L80.31,155.27 L80.55,153.61 L80.79,151.95 L81.03,150.29 L81.28,148.62 L81.52,146.96 L81.76,145.30 L82.01,143.66 L82.25,142.03 L82.49,140.42 L82.73,138.83 L82.98,137.27 L83.22,135.74 L83.46,134.24 L83.70,132.78 L83.95,131.33 L84.19,129.87 L84.43,128.39 L84.67,126.91 L84.92,125.42 L85.16,123.93 L85.40,122.44 L85.64,120.95 L85.89,119.48 L86.13,118.01 L86.37,116.56 L86.61,115.13 L86.86,113.73 L87.10,112.35 L87.34,111.00 L87.58,109.68 L87.83,108.40 L88.07,107.15 L88.31,105.95 L88.56,104.80 L88.80,103.70 L89.04,102.65 L89.28,101.66 L89.53,100.73 L89.77,99.87 L90.01,99.07 L90.25,98.34 L90.50,97.63 L90.74,96.92 L90.98,96.21 L91.22,95.51 L91.47,94.81 L91.71,94.12 L91.95,93.44 L92.19,92.78 L92.44,92.14 L92.68,91.52 L92.92,90.93 L93.16,90.36 L93.41,89.83 L93.65,89.33 L93.89,88.87 L94.14,88.45 L94.38,88.07 L94.62,87.74 L94.86,87.46 L95.11,87.24 L95.35,87.06 L95.59,86.95 L95.83,86.90 L96.08,86.91 L96.32,86.97 L96.56,87.06 L96.80,87.20 L97.05,87.37 L97.29,87.59 L97.53,87.84 L97.77,88.12 L98.02,88.44 L98.26,88.79 L98.50,89.17 L98.74,89.57 L98.99,90.01 L99.23,90.46 L99.47,90.95 L99.72,91.45 L99.96,91.97 L100.20,92.52 L100.44,93.08 L100.69,93.66 L100.93,94.25 L101.17,94.85 L101.41,95.46 L101.66,96.09 L101.90,96.72 L102.14,97.36 L102.38,98.00 L102.63,98.65 L102.87,99.30 L103.11,99.95 L103.35,100.59 L103.60,101.24 L103.84,101.88 L104.08,102.52 L104.32,103.18 L104.57,103.89 L104.81,104.63 L105.05,105.41 L105.30,106.22 L105.54,107.06 L105.78,107.93 L106.02,108.83 L106.27,109.76 L106.51,110.71 L106.75,111.69 L106.99,112.69 L107.24,113.70 L107.48,114.74 L107.72,115.79 L107.96,116.86 L108.21,117.93 L108.45,119.03 L108.69,120.13 L108.93,121.24 L109.18,122.35 L109.42,123.47 L109.66,124.59 L109.90,125.72 L110.15,126.84 L110.39,127.96 L110.63,129.08 L110.88,130.20 L111.12,131.30 L111.36,132.40 L111.60,133.50 L111.85,134.68 L112.09,135.93 L112.33,137.24 L112.57,138.58 L112.82,139.96 L113.06,141.36 L113.30,142.76 L113.54,144.15 L113.79,145.53 L114.03,146.87 L114.27,148.17 L114.51,149.41 L114.76,150.58 L115.00,151.67 L115.24,152.66 L115.48,153.54 L115.73,154.30 L115.97,154.93 L116.21,155.47 L116.46,156.00 L116.70,156.53 L116.94,157.04 L117.18,157.55 L117.43,158.05 L117.67,158.53 L117.91,159.01 L118.15,159.47 L118.40,159.93 L118.64,160.37 L118.88,160.79 L119.12,161.20 L119.37,161.60 L119.61,161.98 L119.85,162.34 L120.09,162.69 L120.34,163.01 L120.58,163.32 L120.82,163.61 L121.06,163.88 L121.31,164.13 L121.55,164.36 L121.79,164.56 L122.04,164.74 L122.28,164.90 L122.52,165.03 L122.76,165.14 L123.01,165.22 L123.25,165.27 L123.49,165.30 L123.73,165.29 L123.98,165.25 L124.22,165.18 L124.46,165.07 L124.70,164.92 L124.95,164.75 L125.19,164.54 L125.43,164.30 L125.67,164.04 L125.92,163.75 L126.16,163.44 L126.40,163.11 L126.64,162.75 L126.89,162.38 L127.13,161.98 L127.37,161.57 L127.62,161.15 L127.86,160.71 L128.10,160.26 L128.34,159.80 L128.59,159.33 L128.83,158.85 L129.07,158.37 L129.31,157.89 L129.56,157.40 L129.80,156.91 L130.04,156.42 L130.28,155.88 L130.53,155.27 L130.77,154.61 L131.01,153.88 L131.25,153.10 L131.50,152.27 L131.74,151.39 L131.98,150.48 L132.22,149.53 L132.47,148.55 L132.71,147.54 L132.95,146.52 L133.19,145.48 L133.44,144.42 L133.68,143.37 L133.92,142.30 L134.17,141.25 L134.41,140.20 L134.65,139.16 L134.89,138.14 L135.14,137.14 L135.38,136.17 L135.62,135.23 L135.86,134.32 L136.11,133.46 L136.35,132.64 L136.59,131.81 L136.83,130.95 L137.08,130.07 L137.32,129.16 L137.56,128.23 L137.80,127.29 L138.05,126.35 L138.29,125.39 L138.53,124.43 L138.77,123.48 L139.02,122.53 L139.26,121.59 L139.50,120.67 L139.75,119.77 L139.99,118.89 L140.23,118.04 L140.47,117.22 L140.72,116.43 L140.96,115.69 L141.20,114.99 L141.44,114.33 L141.69,113.73 L141.93,113.19 L142.17,112.70 L142.41,112.28 L142.66,111.93 L142.90,111.65 L143.14,111.45 L143.38,111.33 L143.63,111.30 L143.87,111.38 L144.11,111.58 L144.35,111.90 L144.60,112.34 L144.84,112.88 L145.08,113.52 L145.33,114.26 L145.57,115.09 L145.81,116.01 L146.05,117.01 L146.30,118.08 L146.54,119.22 L146.78,120.43 L147.02,121.69 L147.27,123.01 L147.51,124.37 L147.75,125.78 L147.99,127.23 L148.24,128.70 L148.48,130.20 L148.72,131.72 L148.96,133.27 L149.21,134.97 L149.45,136.88 L149.69,139.00 L149.93,141.32 L150.18,143.84 L150.42,146.55 L150.66,149.45 L150.91,152.53 L151.15,155.79 L151.39,159.23 L151.63,162.84 L151.88,166.62 L152.12,170.56 L152.36,174.66 L152.60,178.91 L152.85,183.32 L153.09,187.87 L153.33,192.71 L153.57,198.54 L153.82,205.28 L154.06,212.72 L154.30,220.66 L154.54,228.91 L154.79,237.26 L155.03,245.52 L155.27,253.48 L155.51,260.94 L155.76,268.02 L156.00,275.00" stroke="#4444ff" stroke-width="1.6" fill="none" stroke-linejoin="round" clip-path="url(#ca)"/>
<circle cx="62.90" cy="132.85" r="1.7" fill="#2222ee"/>
<circle cx="70.90" cy="132.85" r="1.7" fill="#ff22cc"/>
<circle cx="78.00" cy="132.85" r="1.7" fill="#22ddee"/>
<circle cx="83.60" cy="132.85" r="1.7" fill="#2222ee"/>
<circle cx="124.70" cy="132.85" r="1.7" fill="#111"/>
<circle cx="136.30" cy="132.85" r="1.7" fill="#2222ee"/>
<circle cx="148.00" cy="132.85" r="1.7" fill="#ff22cc"/>
<circle cx="182.90" cy="132.85" r="1.7" fill="#ff22cc"/>
<circle cx="210.10" cy="132.85" r="1.7" fill="#ff22cc"/>
<circle cx="273.30" cy="132.85" r="1.6" fill="#111"/>
<circle cx="321.30" cy="132.85" r="1.6" fill="#111"/>
<circle cx="105.25" cy="132.85" r="2.6" fill="#ff22dd"/>
<circle cx="111.45" cy="132.85" r="2.6" fill="#1a1aee"/>
<circle cx="127.65" cy="132.85" r="2.6" fill="#22ddee"/>
<circle cx="177.60" cy="132.85" r="2.6" fill="#000"/>
<path d="M44.1,5.1 L331.4,5.1" stroke="#bdbdbd" stroke-width="1.9" fill="none"/>
<path d="M331.4,5.1 L331.4,260.6" stroke="#a8a8a8" stroke-width="1.3" fill="none"/>
<path d="M44.1,5.1 L44.1,260.6 L331.4,260.6" stroke="#c0c0c0" stroke-width="1.9" fill="none" stroke-linejoin="round"/>
<rect x="559.90" y="168.60" width="2.6" height="12.2" fill="#ee1122"/>
<rect x="560.50" y="171.60" width="81.70" height="6.2" fill="#ff0000"/>
<path d="M642.20,169.30 L650.40,174.70 L642.20,180.10 Z" fill="#ff0000"/>
<line x1="503.05" y1="5.1" x2="503.05" y2="260.6" stroke="#e6e6e6" stroke-width="0.8" stroke-dasharray="1 2"/>
<line x1="574.90" y1="5.1" x2="574.90" y2="260.6" stroke="#e6e6e6" stroke-width="0.8" stroke-dasharray="1 2"/>
<line x1="646.75" y1="5.1" x2="646.75" y2="260.6" stroke="#e6e6e6" stroke-width="0.8" stroke-dasharray="1 2"/>
<line x1="431.2" y1="218.02" x2="718.6" y2="218.02" stroke="#e6e6e6" stroke-width="0.8" stroke-dasharray="1 2"/>
<line x1="431.2" y1="175.43" x2="718.6" y2="175.43" stroke="#e6e6e6" stroke-width="0.8" stroke-dasharray="1 2"/>
<line x1="431.2" y1="132.85" x2="718.6" y2="132.85" stroke="#e6e6e6" stroke-width="0.8" stroke-dasharray="1 2"/>
<line x1="431.2" y1="90.27" x2="718.6" y2="90.27" stroke="#e6e6e6" stroke-width="0.8" stroke-dasharray="1 2"/>
<line x1="431.2" y1="47.68" x2="718.6" y2="47.68" stroke="#e6e6e6" stroke-width="0.8" stroke-dasharray="1 2"/>
<line x1="431.20" y1="260.6" x2="431.20" y2="255.60000000000002" stroke="#8a8a8a" stroke-width="0.9"/>
<line x1="445.57" y1="260.6" x2="445.57" y2="257.1" stroke="#8a8a8a" stroke-width="0.9"/>
<line x1="459.94" y1="260.6" x2="459.94" y2="257.1" stroke="#8a8a8a" stroke-width="0.9"/>
<line x1="474.31" y1="260.6" x2="474.31" y2="257.1" stroke="#8a8a8a" stroke-width="0.9"/>
<line x1="488.68" y1="260.6" x2="488.68" y2="257.1" stroke="#8a8a8a" stroke-width="0.9"/>
<line x1="503.05" y1="260.6" x2="503.05" y2="255.60000000000002" stroke="#8a8a8a" stroke-width="0.9"/>
<line x1="517.42" y1="260.6" x2="517.42" y2="257.1" stroke="#8a8a8a" stroke-width="0.9"/>
<line x1="531.79" y1="260.6" x2="531.79" y2="257.1" stroke="#8a8a8a" stroke-width="0.9"/>
<line x1="546.16" y1="260.6" x2="546.16" y2="257.1" stroke="#8a8a8a" stroke-width="0.9"/>
<line x1="560.53" y1="260.6" x2="560.53" y2="257.1" stroke="#8a8a8a" stroke-width="0.9"/>
<line x1="574.90" y1="260.6" x2="574.90" y2="255.60000000000002" stroke="#8a8a8a" stroke-width="0.9"/>
<line x1="589.27" y1="260.6" x2="589.27" y2="257.1" stroke="#8a8a8a" stroke-width="0.9"/>
<line x1="603.64" y1="260.6" x2="603.64" y2="257.1" stroke="#8a8a8a" stroke-width="0.9"/>
<line x1="618.01" y1="260.6" x2="618.01" y2="257.1" stroke="#8a8a8a" stroke-width="0.9"/>
<line x1="632.38" y1="260.6" x2="632.38" y2="257.1" stroke="#8a8a8a" stroke-width="0.9"/>
<line x1="646.75" y1="260.6" x2="646.75" y2="255.60000000000002" stroke="#8a8a8a" stroke-width="0.9"/>
<line x1="661.12" y1="260.6" x2="661.12" y2="257.1" stroke="#8a8a8a" stroke-width="0.9"/>
<line x1="675.49" y1="260.6" x2="675.49" y2="257.1" stroke="#8a8a8a" stroke-width="0.9"/>
<line x1="689.86" y1="260.6" x2="689.86" y2="257.1" stroke="#8a8a8a" stroke-width="0.9"/>
<line x1="704.23" y1="260.6" x2="704.23" y2="257.1" stroke="#8a8a8a" stroke-width="0.9"/>
<line x1="718.60" y1="260.6" x2="718.60" y2="255.60000000000002" stroke="#8a8a8a" stroke-width="0.9"/>
<line x1="431.2" y1="260.60" x2="436.2" y2="260.60" stroke="#8a8a8a" stroke-width="0.9"/>
<line x1="431.2" y1="252.08" x2="434.7" y2="252.08" stroke="#8a8a8a" stroke-width="0.9"/>
<line x1="431.2" y1="243.57" x2="434.7" y2="243.57" stroke="#8a8a8a" stroke-width="0.9"/>
<line x1="431.2" y1="235.05" x2="434.7" y2="235.05" stroke="#8a8a8a" stroke-width="0.9"/>
<line x1="431.2" y1="226.53" x2="434.7" y2="226.53" stroke="#8a8a8a" stroke-width="0.9"/>
<line x1="431.2" y1="218.02" x2="436.2" y2="218.02" stroke="#8a8a8a" stroke-width="0.9"/>
<line x1="431.2" y1="209.50" x2="434.7" y2="209.50" stroke="#8a8a8a" stroke-width="0.9"/>
<line x1="431.2" y1="200.98" x2="434.7" y2="200.98" stroke="#8a8a8a" stroke-width="0.9"/>
<line x1="431.2" y1="192.47" x2="434.7" y2="192.47" stroke="#8a8a8a" stroke-width="0.9"/>
<line x1="431.2" y1="183.95" x2="434.7" y2="183.95" stroke="#8a8a8a" stroke-width="0.9"/>
<line x1="431.2" y1="175.43" x2="436.2" y2="175.43" stroke="#8a8a8a" stroke-width="0.9"/>
<line x1="431.2" y1="166.92" x2="434.7" y2="166.92" stroke="#8a8a8a" stroke-width="0.9"/>
<line x1="431.2" y1="158.40" x2="434.7" y2="158.40" stroke="#8a8a8a" stroke-width="0.9"/>
<line x1="431.2" y1="149.88" x2="434.7" y2="149.88" stroke="#8a8a8a" stroke-width="0.9"/>
<line x1="431.2" y1="141.37" x2="434.7" y2="141.37" stroke="#8a8a8a" stroke-width="0.9"/>
<line x1="431.2" y1="132.85" x2="436.2" y2="132.85" stroke="#8a8a8a" stroke-width="0.9"/>
<line x1="431.2" y1="124.33" x2="434.7" y2="124.33" stroke="#8a8a8a" stroke-width="0.9"/>
<line x1="431.2" y1="115.82" x2="434.7" y2="115.82" stroke="#8a8a8a" stroke-width="0.9"/>
<line x1="431.2" y1="107.30" x2="434.7" y2="107.30" stroke="#8a8a8a" stroke-width="0.9"/>
<line x1="431.2" y1="98.78" x2="434.7" y2="98.78" stroke="#8a8a8a" stroke-width="0.9"/>
<line x1="431.2" y1="90.27" x2="436.2" y2="90.27" stroke="#8a8a8a" stroke-width="0.9"/>
<line x1="431.2" y1="81.75" x2="434.7" y2="81.75" stroke="#8a8a8a" stroke-width="0.9"/>
<line x1="431.2" y1="73.23" x2="434.7" y2="73.23" stroke="#8a8a8a" stroke-width="0.9"/>
<line x1="431.2" y1="64.72" x2="434.7" y2="64.72" stroke="#8a8a8a" stroke-width="0.9"/>
<line x1="431.2" y1="56.20" x2="434.7" y2="56.20" stroke="#8a8a8a" stroke-width="0.9"/>
<line x1="431.2" y1="47.68" x2="436.2" y2="47.68" stroke="#8a8a8a" stroke-width="0.9"/>
<line x1="431.2" y1="39.17" x2="434.7" y2="39.17" stroke="#8a8a8a" stroke-width="0.9"/>
<line x1="431.2" y1="30.65" x2="434.7" y2="30.65" stroke="#8a8a8a" stroke-width="0.9"/>
<line x1="431.2" y1="22.13" x2="434.7" y2="22.13" stroke="#8a8a8a" stroke-width="0.9"/>
<line x1="431.2" y1="13.62" x2="434.7" y2="13.62" stroke="#8a8a8a" stroke-width="0.9"/>
<line x1="431.2" y1="5.10" x2="436.2" y2="5.10" stroke="#8a8a8a" stroke-width="0.9"/>
<clipPath id="cb"><rect x="431.2" y="5.1" width="287.40000000000003" height="255.50000000000003"/></clipPath>
<line x1="431.2" y1="132.85" x2="718.6" y2="132.85" stroke="#d8d8d8" stroke-width="1.6"/>
<line x1="466.40" y1="132.85" x2="466.40" y2="260.60" stroke="#ee2222" stroke-width="1.5" stroke-dasharray="1.9 1.15"/>
<line x1="481.10" y1="132.85" x2="481.10" y2="260.60" stroke="#55dd55" stroke-width="1.5" stroke-dasharray="1.9 1.15"/>
<line x1="561.30" y1="132.85" x2="561.30" y2="260.60" stroke="#9933ff" stroke-width="1.5" stroke-dasharray="1.9 1.15"/>
<path d="M445.00,0.00 L445.09,2.44 L445.18,4.61 L445.27,6.17 L445.36,7.61 L445.45,8.95 L445.54,10.22 L445.63,11.40 L445.72,12.52 L445.81,13.57 L445.90,14.58 L445.99,15.53 L446.08,16.45 L446.17,17.33 L446.26,18.19 L446.35,19.03 L446.44,19.86 L446.53,20.69 L446.62,21.52 L446.71,22.37 L446.79,23.23 L446.88,24.12 L446.97,25.04 L447.06,26.01 L447.15,27.02 L447.24,28.09 L447.33,29.23 L447.42,30.45 L447.51,31.76 L447.60,33.12 L447.69,34.54 L447.78,35.98 L447.87,37.43 L447.96,38.88 L448.05,40.31 L448.14,41.70 L448.23,43.03 L448.32,44.29 L448.41,45.45 L448.50,46.51 L448.59,47.45 L448.68,48.25 L448.77,48.99 L448.86,49.71 L448.95,50.40 L449.04,51.07 L449.13,51.71 L449.22,52.33 L449.31,52.93 L449.40,53.51 L449.49,54.06 L449.58,54.59 L449.67,55.11 L449.76,55.60 L449.85,56.08 L449.94,56.54 L450.03,56.99 L450.12,57.42 L450.20,57.83 L450.29,58.23 L450.38,58.62 L450.47,58.99 L450.56,59.36 L450.65,59.71 L450.74,60.05 L450.83,60.37 L450.92,60.69 L451.01,60.99 L451.10,61.28 L451.19,61.56 L451.28,61.83 L451.37,62.10 L451.46,62.35 L451.55,62.60 L451.64,62.85 L451.73,63.08 L451.82,63.32 L451.91,63.55 L452.00,63.77 L452.09,64.00 L452.18,64.22 L452.27,64.44 L452.36,64.66 L452.45,64.88 L452.54,65.11 L452.63,65.33 L452.72,65.56 L452.81,65.79 L452.90,66.03 L452.99,66.27 L453.08,66.52 L453.17,66.78 L453.26,67.04 L453.35,67.31 L453.44,67.59 L453.53,67.88 L453.61,68.18 L453.70,68.47 L453.79,68.77 L453.88,69.07 L453.97,69.37 L454.06,69.67 L454.15,69.98 L454.24,70.28 L454.33,70.59 L454.42,70.90 L454.51,71.21 L454.60,71.53 L454.69,71.84 L454.78,72.16 L454.87,72.48 L454.96,72.80 L455.05,73.13 L455.14,73.46 L455.23,73.78 L455.32,74.12 L455.41,74.45 L455.50,74.78 L455.59,75.12 L455.68,75.46 L455.77,75.80 L455.86,76.15 L455.95,76.50 L456.04,76.84 L456.13,77.20 L456.22,77.55 L456.31,77.91 L456.40,78.27 L456.49,78.63 L456.58,78.99 L456.67,79.36 L456.76,79.73 L456.85,80.10 L456.94,80.47 L457.02,80.85 L457.11,81.23 L457.20,81.61 L457.29,82.00 L457.38,82.38 L457.47,82.77 L457.56,83.17 L457.65,83.56 L457.74,83.96 L457.83,84.36 L457.92,84.77 L458.01,85.17 L458.10,85.58 L458.19,86.00 L458.28,86.41 L458.37,86.83 L458.46,87.26 L458.55,87.69 L458.64,88.13 L458.73,88.58 L458.82,89.04 L458.91,89.50 L459.00,89.96 L459.09,90.43 L459.18,90.91 L459.27,91.40 L459.36,91.88 L459.45,92.38 L459.54,92.88 L459.63,93.38 L459.72,93.89 L459.81,94.40 L459.90,94.92 L459.99,95.44 L460.08,95.96 L460.17,96.49 L460.26,97.02 L460.35,97.56 L460.43,98.09 L460.52,98.64 L460.61,99.18 L460.70,99.73 L460.79,100.27 L460.88,100.83 L460.97,101.38 L461.06,101.93 L461.15,102.49 L461.24,103.05 L461.33,103.61 L461.42,104.17 L461.51,104.73 L461.60,105.30 L461.69,105.86 L461.78,106.42 L461.87,106.99 L461.96,107.55 L462.05,108.12 L462.14,108.68 L462.23,109.24 L462.32,109.81 L462.41,110.37 L462.50,110.93 L462.59,111.49 L462.68,112.05 L462.77,112.60 L462.86,113.16 L462.95,113.71 L463.04,114.26 L463.13,114.81 L463.22,115.36 L463.31,115.90 L463.40,116.44 L463.49,116.98 L463.58,117.52 L463.67,118.05 L463.76,118.58 L463.84,119.10 L463.93,119.62 L464.02,120.14 L464.11,120.65 L464.20,121.15 L464.29,121.65 L464.38,122.14 L464.47,122.63 L464.56,123.12 L464.65,123.60 L464.74,124.08 L464.83,124.56 L464.92,125.05 L465.01,125.53 L465.10,126.01 L465.19,126.49 L465.28,126.98 L465.37,127.48 L465.46,127.97 L465.55,128.47 L465.64,128.98 L465.73,129.50 L465.82,130.02 L465.91,130.56 L466.00,131.10 L466.09,131.65 L466.18,132.21 L466.27,132.79 L466.36,133.38 L466.45,133.98 L466.54,134.60 L466.63,135.23 L466.72,135.87 L466.81,136.52 L466.90,137.19 L466.99,137.86 L467.08,138.55 L467.17,139.25 L467.25,139.96 L467.34,140.68 L467.43,141.41 L467.52,142.14 L467.61,142.89 L467.70,143.64 L467.79,144.40 L467.88,145.16 L467.97,145.93 L468.06,146.71 L468.15,147.50 L468.24,148.29 L468.33,149.08 L468.42,149.88 L468.51,150.68 L468.60,151.48 L468.69,152.29 L468.78,153.10 L468.87,153.91 L468.96,154.73 L469.05,155.54 L469.14,156.36 L469.23,157.17 L469.32,157.99 L469.41,158.80 L469.50,159.61 L469.59,160.43 L469.68,161.23 L469.77,162.04 L469.86,162.84 L469.95,163.65 L470.04,164.44 L470.13,165.23 L470.22,166.02 L470.31,166.80 L470.40,167.58 L470.49,168.35 L470.58,169.11 L470.66,169.87 L470.75,170.62 L470.84,171.36 L470.93,172.09 L471.02,172.82 L471.11,173.53 L471.20,174.24 L471.29,174.93 L471.38,175.62 L471.47,176.29 L471.56,176.95 L471.65,177.60 L471.74,178.24 L471.83,178.86 L471.92,179.47 L472.01,180.07 L472.10,180.66 L472.19,181.24 L472.28,181.81 L472.37,182.37 L472.46,182.92 L472.55,183.47 L472.64,184.01 L472.73,184.55 L472.82,185.08 L472.91,185.60 L473.00,186.12 L473.09,186.63 L473.18,187.14 L473.27,187.64 L473.36,188.14 L473.45,188.64 L473.54,189.13 L473.63,189.62 L473.72,190.11 L473.81,190.59 L473.90,191.07 L473.99,191.55 L474.07,192.03 L474.16,192.51 L474.25,192.99 L474.34,193.47 L474.43,193.95 L474.52,194.43 L474.61,194.91 L474.70,195.39 L474.79,195.87 L474.88,196.35 L474.97,196.84 L475.06,197.33 L475.15,197.82 L475.24,198.32 L475.33,198.81 L475.42,199.32 L475.51,199.82 L475.60,200.33 L475.69,200.84 L475.78,201.36 L475.87,201.87 L475.96,202.39 L476.05,202.91 L476.14,203.43 L476.23,203.95 L476.32,204.47 L476.41,205.00 L476.50,205.52 L476.59,206.04 L476.68,206.57 L476.77,207.09 L476.86,207.61 L476.95,208.14 L477.04,208.66 L477.13,209.18 L477.22,209.70 L477.31,210.22 L477.40,210.73 L477.48,211.25 L477.57,211.76 L477.66,212.27 L477.75,212.78 L477.84,213.28 L477.93,213.78 L478.02,214.28 L478.11,214.78 L478.20,215.27 L478.29,215.75 L478.38,216.24 L478.47,216.71 L478.56,217.19 L478.65,217.66 L478.74,218.12 L478.83,218.58 L478.92,219.03 L479.01,219.48 L479.10,219.92 L479.19,220.35 L479.28,220.79 L479.37,221.23 L479.46,221.67 L479.55,222.12 L479.64,222.58 L479.73,223.03 L479.82,223.48 L479.91,223.92 L480.00,224.36 L480.09,224.80 L480.18,225.22 L480.27,225.63 L480.36,226.03 L480.45,226.42 L480.54,226.79 L480.63,227.14 L480.72,227.47 L480.81,227.77 L480.89,228.05 L480.98,228.31 L481.07,228.54 L481.16,228.75 L481.25,228.95 L481.34,229.16 L481.43,229.36 L481.52,229.56 L481.61,229.76 L481.70,229.95 L481.79,230.13 L481.88,230.32 L481.97,230.49 L482.06,230.65 L482.15,230.81 L482.24,230.96 L482.33,231.09 L482.42,231.22 L482.51,231.33 L482.60,231.43 L482.69,231.52 L482.78,231.59 L482.87,231.64 L482.96,231.68 L483.05,231.70 L483.14,231.70 L483.23,231.68 L483.32,231.65 L483.41,231.59 L483.50,231.52 L483.59,231.44 L483.68,231.34 L483.77,231.23 L483.86,231.11 L483.95,230.97 L484.04,230.83 L484.13,230.67 L484.22,230.51 L484.30,230.33 L484.39,230.15 L484.48,229.97 L484.57,229.78 L484.66,229.58 L484.75,229.38 L484.84,229.18 L484.93,228.98 L485.02,228.77 L485.11,228.57 L485.20,228.35 L485.29,228.11 L485.38,227.84 L485.47,227.55 L485.56,227.24 L485.65,226.91 L485.74,226.56 L485.83,226.20 L485.92,225.83 L486.01,225.44 L486.10,225.04 L486.19,224.64 L486.28,224.22 L486.37,223.80 L486.46,223.38 L486.55,222.96 L486.64,222.53 L486.73,222.11 L486.82,221.68 L486.91,221.27 L487.00,220.85 L487.09,220.44 L487.18,220.03 L487.27,219.62 L487.36,219.21 L487.45,218.80 L487.54,218.39 L487.63,217.98 L487.71,217.57 L487.80,217.15 L487.89,216.74 L487.98,216.32 L488.07,215.90 L488.16,215.47 L488.25,215.04 L488.34,214.61 L488.43,214.17 L488.52,213.73 L488.61,213.28 L488.70,212.82 L488.79,212.36 L488.88,211.89 L488.97,211.41 L489.06,210.92 L489.15,210.43 L489.24,209.92 L489.33,209.41 L489.42,208.88 L489.51,208.35 L489.60,207.80 L489.69,207.24 L489.78,206.67 L489.87,206.09 L489.96,205.50 L490.05,204.89 L490.14,204.27 L490.23,203.63 L490.32,202.98 L490.41,202.31 L490.50,201.63 L490.59,200.93 L490.68,200.21 L490.77,199.48 L490.86,198.72 L490.95,197.87 L491.04,196.93 L491.12,195.92 L491.21,194.84 L491.30,193.71 L491.39,192.53 L491.48,191.31 L491.57,190.06 L491.66,188.79 L491.75,187.51 L491.84,186.23 L491.93,184.95 L492.02,183.69 L492.11,182.46 L492.20,181.26 L492.29,180.11 L492.38,178.98 L492.47,177.86 L492.56,176.74 L492.65,175.62 L492.74,174.50 L492.83,173.39 L492.92,172.28 L493.01,171.17 L493.10,170.06 L493.19,168.95 L493.28,167.84 L493.37,166.74 L493.46,165.64 L493.55,164.53 L493.64,163.43 L493.73,162.34 L493.82,161.24 L493.91,160.14 L494.00,159.05 L494.09,157.95 L494.18,156.86 L494.27,155.77 L494.36,154.68 L494.45,153.59 L494.53,152.50 L494.62,151.41 L494.71,150.32 L494.80,149.24 L494.89,148.15 L494.98,147.07 L495.07,145.98 L495.16,144.90 L495.25,143.82 L495.34,142.73 L495.43,141.65 L495.52,140.57 L495.61,139.49 L495.70,138.40 L495.79,137.32 L495.88,136.24 L495.97,135.16 L496.06,134.08 L496.15,133.00 L496.24,131.92 L496.33,130.85 L496.42,129.79 L496.51,128.74 L496.60,127.69 L496.69,126.65 L496.78,125.62 L496.87,124.59 L496.96,123.57 L497.05,122.55 L497.14,121.54 L497.23,120.53 L497.32,119.53 L497.41,118.53 L497.50,117.53 L497.59,116.54 L497.68,115.55 L497.77,114.56 L497.86,113.58 L497.94,112.60 L498.03,111.62 L498.12,110.63 L498.21,109.66 L498.30,108.68 L498.39,107.70 L498.48,106.72 L498.57,105.74 L498.66,104.76 L498.75,103.77 L498.84,102.79 L498.93,101.80 L499.02,100.82 L499.11,99.82 L499.20,98.83 L499.29,97.83 L499.38,96.83 L499.47,95.83 L499.56,94.82 L499.65,93.80 L499.74,92.78 L499.83,91.76 L499.92,90.72 L500.01,89.69 L500.10,88.64 L500.19,87.59 L500.28,86.53 L500.37,85.47 L500.46,84.39 L500.55,83.31 L500.64,82.22 L500.73,81.12 L500.82,80.01 L500.91,78.89 L501.00,77.76 L501.09,76.62 L501.18,75.47 L501.27,74.31 L501.35,73.14 L501.44,71.95 L501.53,70.76 L501.62,69.55 L501.71,68.32 L501.80,67.09 L501.89,65.84 L501.98,64.58 L502.07,63.30 L502.16,62.01 L502.25,60.70 L502.34,59.36 L502.43,57.91 L502.52,56.34 L502.61,54.67 L502.70,52.93 L502.79,51.11 L502.88,49.26 L502.97,47.38 L503.06,45.50 L503.15,43.63 L503.24,41.79 L503.33,39.99 L503.42,38.27 L503.51,36.63 L503.60,35.10 L503.69,33.69 L503.78,32.42 L503.87,31.31 L503.96,30.37 L504.05,29.62 L504.14,28.90 L504.23,28.21 L504.32,27.56 L504.41,26.93 L504.50,26.33 L504.59,25.76 L504.68,25.23 L504.76,24.73 L504.85,24.26 L504.94,23.84 L505.03,23.45 L505.12,23.10 L505.21,22.80 L505.30,22.53 L505.39,22.32 L505.48,22.12 L505.57,21.93 L505.66,21.75 L505.75,21.58 L505.84,21.41 L505.93,21.25 L506.02,21.09 L506.11,20.95 L506.20,20.82 L506.29,20.70 L506.38,20.60 L506.47,20.51 L506.56,20.43 L506.65,20.37 L506.74,20.33 L506.83,20.31 L506.92,20.30 L507.01,20.31 L507.10,20.35 L507.19,20.39 L507.28,20.46 L507.37,20.54 L507.46,20.64 L507.55,20.74 L507.64,20.87 L507.73,21.00 L507.82,21.15 L507.91,21.30 L508.00,21.47 L508.09,21.64 L508.17,21.82 L508.26,22.01 L508.35,22.20 L508.44,22.40 L508.53,22.64 L508.62,22.91 L508.71,23.22 L508.80,23.58 L508.89,23.98 L508.98,24.43 L509.07,24.93 L509.16,25.48 L509.25,26.09 L509.34,26.75 L509.43,27.47 L509.52,28.25 L509.61,29.10 L509.70,30.01 L509.79,31.37 L509.88,33.48 L509.97,36.19 L510.06,39.36 L510.15,42.84 L510.24,46.49 L510.33,50.17 L510.42,53.73 L510.51,57.04 L510.60,59.94 L510.69,62.55 L510.78,65.09 L510.87,67.59 L510.96,70.02 L511.05,72.41 L511.14,74.76 L511.23,77.06 L511.32,79.33 L511.41,81.56 L511.50,83.76 L511.58,85.93 L511.67,88.08 L511.76,90.22 L511.85,92.33 L511.94,94.44 L512.03,96.54 L512.12,98.63 L512.21,100.73 L512.30,102.83 L512.39,104.93 L512.48,107.05 L512.57,109.18 L512.66,111.33 L512.75,113.50 L512.84,115.70 L512.93,117.93 L513.02,120.19 L513.11,122.49 L513.20,124.83 L513.29,127.22 L513.38,129.65 L513.47,132.14 L513.56,134.67 L513.65,137.17 L513.74,139.67 L513.83,142.16 L513.92,144.67 L514.01,147.20 L514.10,149.76 L514.19,152.37 L514.28,155.04 L514.37,157.77 L514.46,160.59 L514.55,163.50 L514.64,166.50 L514.73,169.63 L514.82,172.88 L514.91,176.26 L514.99,179.80 L515.08,183.59 L515.17,187.72 L515.26,192.15 L515.35,196.84 L515.44,201.75 L515.53,206.82 L515.62,212.02 L515.71,217.30 L515.80,222.63 L515.89,227.95 L515.98,233.22 L516.07,238.40 L516.16,243.50 L516.25,248.64 L516.34,253.83 L516.43,259.07 L516.52,264.35 L516.61,269.66 L516.70,275.00" stroke="#dd2222" stroke-width="1.6" fill="none" stroke-linejoin="round" clip-path="url(#cb)"/>
<path d="M446.15,5.00 L446.64,9.15 L447.12,13.23 L447.61,17.24 L448.09,21.19 L448.58,25.07 L449.06,28.88 L449.55,32.61 L450.03,36.28 L450.52,39.87 L451.00,43.39 L451.49,46.83 L451.97,50.20 L452.46,53.48 L452.94,56.69 L453.43,59.82 L453.92,62.86 L454.40,65.83 L454.89,68.71 L455.37,71.50 L455.86,74.21 L456.34,76.83 L456.83,79.37 L457.31,81.81 L457.80,84.16 L458.28,86.42 L458.77,88.59 L459.25,90.68 L459.74,92.69 L460.22,94.63 L460.71,96.52 L461.20,98.36 L461.68,100.15 L462.17,101.92 L462.65,103.66 L463.14,105.39 L463.62,107.12 L464.11,108.85 L464.59,110.59 L465.08,112.36 L465.56,114.12 L466.05,115.85 L466.53,117.53 L467.02,119.13 L467.50,120.61 L467.99,121.98 L468.48,123.23 L468.96,124.38 L469.45,125.43 L469.93,126.40 L470.42,127.29 L470.90,128.10 L471.39,128.86 L471.87,129.56 L472.36,130.22 L472.84,130.85 L473.33,131.45 L473.81,132.03 L474.30,132.60 L474.78,133.17 L475.27,133.74 L475.76,134.30 L476.24,134.85 L476.73,135.39 L477.21,135.91 L477.70,136.42 L478.18,136.91 L478.67,137.37 L479.15,137.81 L479.64,138.22 L480.12,138.59 L480.61,138.94 L481.09,139.25 L481.58,139.53 L482.07,139.77 L482.55,140.00 L483.04,140.19 L483.52,140.36 L484.01,140.50 L484.49,140.62 L484.98,140.72 L485.46,140.80 L485.95,140.86 L486.43,140.90 L486.92,140.92 L487.40,140.93 L487.89,140.93 L488.37,140.91 L488.86,140.88 L489.35,140.84 L489.83,140.80 L490.32,140.74 L490.80,140.68 L491.29,140.61 L491.77,140.54 L492.26,140.46 L492.74,140.37 L493.23,140.27 L493.71,140.17 L494.20,140.07 L494.68,139.96 L495.17,139.84 L495.65,139.72 L496.14,139.59 L496.63,139.46 L497.11,139.32 L497.60,139.18 L498.08,139.03 L498.57,138.88 L499.05,138.73 L499.54,138.57 L500.02,138.41 L500.51,138.25 L500.99,138.08 L501.48,137.91 L501.96,137.73 L502.45,137.56 L502.93,137.38 L503.42,137.20 L503.91,137.01 L504.39,136.83 L504.88,136.64 L505.36,136.45 L505.85,136.26 L506.33,136.07 L506.82,135.87 L507.30,135.68 L507.79,135.48 L508.27,135.29 L508.76,135.09 L509.24,134.89 L509.73,134.69 L510.21,134.48 L510.70,134.28 L511.19,134.08 L511.67,133.87 L512.16,133.67 L512.64,133.46 L513.13,133.26 L513.61,133.05 L514.10,132.85 L514.58,132.64 L515.07,132.43 L515.55,132.23 L516.04,132.02 L516.52,131.82 L517.01,131.62 L517.49,131.42 L517.98,131.23 L518.47,131.03 L518.95,130.84 L519.44,130.65 L519.92,130.47 L520.41,130.29 L520.89,130.11 L521.38,129.94 L521.86,129.78 L522.35,129.62 L522.83,129.46 L523.32,129.31 L523.80,129.17 L524.29,129.04 L524.77,128.91 L525.26,128.79 L525.75,128.67 L526.23,128.57 L526.72,128.47 L527.20,128.37 L527.69,128.29 L528.17,128.21 L528.66,128.13 L529.14,128.07 L529.63,128.01 L530.11,127.95 L530.60,127.90 L531.08,127.86 L531.57,127.82 L532.05,127.79 L532.54,127.76 L533.03,127.74 L533.51,127.72 L534.00,127.71 L534.48,127.70 L534.97,127.70 L535.45,127.70 L535.94,127.70 L536.42,127.71 L536.91,127.72 L537.39,127.73 L537.88,127.75 L538.36,127.78 L538.85,127.80 L539.33,127.84 L539.82,127.87 L540.31,127.91 L540.79,127.95 L541.28,128.00 L541.76,128.05 L542.25,128.10 L542.73,128.16 L543.22,128.22 L543.70,128.29 L544.19,128.36 L544.67,128.43 L545.16,128.51 L545.64,128.59 L546.13,128.68 L546.62,128.77 L547.10,128.86 L547.59,128.96 L548.07,129.06 L548.56,129.16 L549.04,129.27 L549.53,129.39 L550.01,129.50 L550.50,129.62 L550.98,129.75 L551.47,129.88 L551.95,130.01 L552.44,130.14 L552.92,130.28 L553.41,130.42 L553.90,130.56 L554.38,130.71 L554.87,130.86 L555.35,131.01 L555.84,131.16 L556.32,131.31 L556.81,131.47 L557.29,131.62 L557.78,131.78 L558.26,131.94 L558.75,132.10 L559.23,132.26 L559.72,132.42 L560.20,132.58 L560.69,132.73 L561.18,132.89 L561.66,133.05 L562.15,133.21 L562.63,133.37 L563.12,133.53 L563.60,133.68 L564.09,133.84 L564.57,134.00 L565.06,134.15 L565.54,134.31 L566.03,134.46 L566.51,134.62 L567.00,134.78 L567.48,134.93 L567.97,135.09 L568.46,135.25 L568.94,135.41 L569.43,135.56 L569.91,135.72 L570.40,135.88 L570.88,136.04 L571.37,136.20 L571.85,136.37 L572.34,136.53 L572.82,136.69 L573.31,136.86 L573.79,137.02 L574.28,137.19 L574.76,137.36 L575.25,137.53 L575.74,137.70 L576.22,137.87 L576.71,138.05 L577.19,138.22 L577.68,138.40 L578.16,138.58 L578.65,138.76 L579.13,138.95 L579.62,139.13 L580.10,139.32 L580.59,139.51 L581.07,139.71 L581.56,139.91 L582.04,140.11 L582.53,140.31 L583.02,140.52 L583.50,140.73 L583.99,140.95 L584.47,141.17 L584.96,141.40 L585.44,141.63 L585.93,141.86 L586.41,142.10 L586.90,142.35 L587.38,142.60 L587.87,142.86 L588.35,143.12 L588.84,143.39 L589.32,143.66 L589.81,143.94 L590.30,144.23 L590.78,144.53 L591.27,144.83 L591.75,145.14 L592.24,145.45 L592.72,145.77 L593.21,146.10 L593.69,146.44 L594.18,146.78 L594.66,147.12 L595.15,147.47 L595.63,147.83 L596.12,148.19 L596.60,148.56 L597.09,148.93 L597.58,149.31 L598.06,149.69 L598.55,150.08 L599.03,150.47 L599.52,150.86 L600.00,151.26 L600.49,151.66 L600.97,152.06 L601.46,152.47 L601.94,152.88 L602.43,153.29 L602.91,153.71 L603.40,154.13 L603.88,154.55 L604.37,154.97 L604.86,155.40 L605.34,155.83 L605.83,156.26 L606.31,156.70 L606.80,157.15 L607.28,157.62 L607.77,158.09 L608.25,158.58 L608.74,159.08 L609.22,159.60 L609.71,160.14 L610.19,160.70 L610.68,161.28 L611.17,161.89 L611.65,162.52 L612.14,163.19 L612.62,163.88 L613.11,164.60 L613.59,165.36 L614.08,166.15 L614.56,166.97 L615.05,167.82 L615.53,168.71 L616.02,169.62 L616.50,170.56 L616.99,171.53 L617.47,172.52 L617.96,173.54 L618.45,174.58 L618.93,175.65 L619.42,176.73 L619.90,177.84 L620.39,178.97 L620.87,180.11 L621.36,181.28 L621.84,182.47 L622.33,183.69 L622.81,184.93 L623.30,186.20 L623.78,187.50 L624.27,188.83 L624.75,190.19 L625.24,191.58 L625.73,193.01 L626.21,194.47 L626.70,195.97 L627.18,197.51 L627.67,199.09 L628.15,200.71 L628.64,202.37 L629.12,204.06 L629.61,205.79 L630.09,207.57 L630.58,209.37 L631.06,211.22 L631.55,213.11 L632.03,215.03 L632.52,216.99 L633.01,218.98 L633.49,221.02 L633.98,223.10 L634.46,225.23 L634.95,227.40 L635.43,229.63 L635.92,231.91 L636.40,234.24 L636.89,236.64 L637.37,239.10 L637.86,241.62 L638.34,244.21 L638.83,246.86 L639.31,249.59 L639.80,252.40" stroke="#8f1fff" stroke-width="1.6" fill="none" stroke-linejoin="round" clip-path="url(#cb)"/>
<path d="M446.90,5.00 L447.33,8.70 L447.77,12.31 L448.20,15.83 L448.64,19.26 L449.07,22.62 L449.50,25.89 L449.94,29.08 L450.37,32.20 L450.80,35.23 L451.24,38.20 L451.67,41.09 L452.11,43.91 L452.54,46.65 L452.97,49.34 L453.41,51.95 L453.84,54.51 L454.28,56.99 L454.71,59.42 L455.14,61.79 L455.58,64.11 L456.01,66.37 L456.44,68.57 L456.88,70.72 L457.31,72.83 L457.75,74.88 L458.18,76.89 L458.61,78.85 L459.05,80.77 L459.48,82.65 L459.92,84.49 L460.35,86.29 L460.78,88.06 L461.22,89.78 L461.65,91.48 L462.08,93.14 L462.52,94.76 L462.95,96.34 L463.39,97.89 L463.82,99.41 L464.25,100.88 L464.69,102.33 L465.12,103.73 L465.55,105.10 L465.99,106.43 L466.42,107.73 L466.86,108.99 L467.29,110.21 L467.72,111.40 L468.16,112.55 L468.59,113.67 L469.03,114.75 L469.46,115.79 L469.89,116.79 L470.33,117.76 L470.76,118.69 L471.19,119.59 L471.63,120.45 L472.06,121.27 L472.50,122.06 L472.93,122.82 L473.36,123.54 L473.80,124.23 L474.23,124.90 L474.67,125.54 L475.10,126.15 L475.53,126.74 L475.97,127.30 L476.40,127.84 L476.83,128.37 L477.27,128.87 L477.70,129.36 L478.14,129.83 L478.57,130.29 L479.00,130.74 L479.44,131.17 L479.87,131.60 L480.31,132.01 L480.74,132.42 L481.17,132.82 L481.61,133.22 L482.04,133.62 L482.47,134.00 L482.91,134.38 L483.34,134.74 L483.78,135.10 L484.21,135.43 L484.64,135.75 L485.08,136.05 L485.51,136.33 L485.95,136.59 L486.38,136.83 L486.81,137.06 L487.25,137.26 L487.68,137.45 L488.11,137.63 L488.55,137.79 L488.98,137.93 L489.42,138.06 L489.85,138.18 L490.28,138.28 L490.72,138.38 L491.15,138.46 L491.58,138.54 L492.02,138.60 L492.45,138.66 L492.89,138.71 L493.32,138.75 L493.75,138.79 L494.19,138.82 L494.62,138.85 L495.06,138.88 L495.49,138.90 L495.92,138.91 L496.36,138.93 L496.79,138.94 L497.22,138.95 L497.66,138.95 L498.09,138.96 L498.53,138.96 L498.96,138.96 L499.39,138.96 L499.83,138.95 L500.26,138.95 L500.70,138.94 L501.13,138.94 L501.56,138.93 L502.00,138.92 L502.43,138.91 L502.86,138.90 L503.30,138.89 L503.73,138.88 L504.17,138.88 L504.60,138.87 L505.03,138.86 L505.47,138.86 L505.90,138.85 L506.34,138.85 L506.77,138.85 L507.20,138.85 L507.64,138.85 L508.07,138.85 L508.50,138.86 L508.94,138.87 L509.37,138.87 L509.81,138.89 L510.24,138.90 L510.67,138.92 L511.11,138.93 L511.54,138.95 L511.98,138.98 L512.41,139.00 L512.84,139.03 L513.28,139.06 L513.71,139.10 L514.14,139.13 L514.58,139.17 L515.01,139.21 L515.45,139.26 L515.88,139.31 L516.31,139.36 L516.75,139.41 L517.18,139.47 L517.62,139.54 L518.05,139.60 L518.48,139.67 L518.92,139.74 L519.35,139.82 L519.78,139.90 L520.22,139.98 L520.65,140.07 L521.09,140.17 L521.52,140.26 L521.95,140.36 L522.39,140.47 L522.82,140.58 L523.25,140.69 L523.69,140.81 L524.12,140.94 L524.56,141.06 L524.99,141.20 L525.42,141.33 L525.86,141.48 L526.29,141.62 L526.73,141.78 L527.16,141.93 L527.59,142.10 L528.03,142.26 L528.46,142.43 L528.89,142.61 L529.33,142.79 L529.76,142.97 L530.20,143.16 L530.63,143.35 L531.06,143.55 L531.50,143.75 L531.93,143.96 L532.37,144.17 L532.80,144.39 L533.23,144.61 L533.67,144.83 L534.10,145.06 L534.53,145.29 L534.97,145.52 L535.40,145.76 L535.84,146.01 L536.27,146.25 L536.70,146.51 L537.14,146.76 L537.57,147.02 L538.01,147.28 L538.44,147.55 L538.87,147.81 L539.31,148.08 L539.74,148.36 L540.17,148.63 L540.61,148.91 L541.04,149.19 L541.48,149.47 L541.91,149.76 L542.34,150.04 L542.78,150.33 L543.21,150.62 L543.65,150.91 L544.08,151.20 L544.51,151.49 L544.95,151.78 L545.38,152.07 L545.81,152.36 L546.25,152.66 L546.68,152.95 L547.12,153.24 L547.55,153.53 L547.98,153.82 L548.42,154.11 L548.85,154.40 L549.28,154.69 L549.72,154.98 L550.15,155.26 L550.59,155.55 L551.02,155.83 L551.45,156.11 L551.89,156.39 L552.32,156.66 L552.76,156.93 L553.19,157.20 L553.62,157.47 L554.06,157.74 L554.49,158.00 L554.92,158.26 L555.36,158.51 L555.79,158.76 L556.23,159.01 L556.66,159.25 L557.09,159.49 L557.53,159.72 L557.96,159.95 L558.40,160.17 L558.83,160.39 L559.26,160.60 L559.70,160.80 L560.13,161.00 L560.56,161.19 L561.00,161.38 L561.43,161.55 L561.87,161.72 L562.30,161.88 L562.73,162.04 L563.17,162.18 L563.60,162.32 L564.04,162.45 L564.47,162.56 L564.90,162.67 L565.34,162.77 L565.77,162.86 L566.20,162.94 L566.64,163.01 L567.07,163.07 L567.51,163.11 L567.94,163.15 L568.37,163.17 L568.81,163.18 L569.24,163.18 L569.68,163.17 L570.11,163.14 L570.54,163.10 L570.98,163.05 L571.41,162.98 L571.84,162.90 L572.28,162.81 L572.71,162.70 L573.15,162.58 L573.58,162.44 L574.01,162.29 L574.45,162.12 L574.88,161.94 L575.32,161.74 L575.75,161.53 L576.18,161.30 L576.62,161.05 L577.05,160.79 L577.48,160.52 L577.92,160.22 L578.35,159.91 L578.79,159.59 L579.22,159.24 L579.65,158.88 L580.09,158.50 L580.52,158.10 L580.95,157.69 L581.39,157.26 L581.82,156.80 L582.26,156.33 L582.69,155.85 L583.12,155.34 L583.56,154.81 L583.99,154.27 L584.43,153.70 L584.86,153.12 L585.29,152.52 L585.73,151.89 L586.16,151.25 L586.59,150.59 L587.03,149.91 L587.46,149.21 L587.90,148.49 L588.33,147.75 L588.76,146.99 L589.20,146.21 L589.63,145.42 L590.07,144.60 L590.50,143.76 L590.93,142.91 L591.37,142.04 L591.80,141.14 L592.23,140.23 L592.67,139.30 L593.10,138.35 L593.54,137.38 L593.97,136.39 L594.40,135.38 L594.84,134.36 L595.27,133.31 L595.71,132.25 L596.14,131.16 L596.57,130.05 L597.01,128.90 L597.44,127.71 L597.87,126.48 L598.31,125.20 L598.74,123.87 L599.18,122.47 L599.61,121.01 L600.04,119.49 L600.48,117.88 L600.91,116.19 L601.35,114.39 L601.78,112.50 L602.21,110.48 L602.65,108.34 L603.08,106.06 L603.51,103.64 L603.95,101.06 L604.38,98.31 L604.82,95.39 L605.25,92.28 L605.68,89.02 L606.12,85.62 L606.55,82.13 L606.98,78.58 L607.42,74.99 L607.85,71.41 L608.29,67.87 L608.72,64.40 L609.15,61.02 L609.59,57.79 L610.02,54.71 L610.46,51.79 L610.89,49.01 L611.32,46.35 L611.76,43.80 L612.19,41.34 L612.62,38.95 L613.06,36.63 L613.49,34.35 L613.93,32.10 L614.36,29.87 L614.79,27.63 L615.23,25.38 L615.66,23.09 L616.10,20.76 L616.53,18.36 L616.96,15.88 L617.40,13.31 L617.83,10.62 L618.26,7.81 L618.70,4.86 L619.13,1.75 L619.57,-1.53 L620.00,-5.00" stroke="#19cc19" stroke-width="1.6" fill="none" stroke-linejoin="round" clip-path="url(#cb)"/>
<circle cx="474.30" cy="132.85" r="1.7" fill="#6611ff"/>
<circle cx="496.20" cy="132.85" r="1.7" fill="#ff1111"/>
<circle cx="513.05" cy="132.85" r="1.7" fill="#ff1111"/>
<circle cx="595.00" cy="132.85" r="1.7" fill="#11bb11"/>
<circle cx="466.30" cy="132.85" r="2.7" fill="#ff0000"/>
<circle cx="481.10" cy="132.85" r="2.7" fill="#00bb00"/>
<circle cx="561.30" cy="132.85" r="2.7" fill="#6a00ff"/>
<path d="M431.2,5.1 L718.6,5.1" stroke="#bdbdbd" stroke-width="1.9" fill="none"/>
<path d="M718.6,5.1 L718.6,260.6" stroke="#a8a8a8" stroke-width="1.3" fill="none"/>
<path d="M431.2,5.1 L431.2,260.6 L718.6,260.6" stroke="#c0c0c0" stroke-width="1.9" fill="none" stroke-linejoin="round"/>
<rect x="134.70" y="560.30" width="2.6" height="12.2" fill="#ee1122"/>
<rect x="135.30" y="563.30" width="56.00" height="6.2" fill="#ff0000"/>
<path d="M191.30,561.00 L199.50,566.40 L191.30,571.80 Z" fill="#ff0000"/>
<line x1="92.15" y1="333.4" x2="92.15" y2="588.7" stroke="#e6e6e6" stroke-width="0.8" stroke-dasharray="1 2"/>
<line x1="140.00" y1="333.4" x2="140.00" y2="588.7" stroke="#e6e6e6" stroke-width="0.8" stroke-dasharray="1 2"/>
<line x1="187.85" y1="333.4" x2="187.85" y2="588.7" stroke="#e6e6e6" stroke-width="0.8" stroke-dasharray="1 2"/>
<line x1="235.70" y1="333.4" x2="235.70" y2="588.7" stroke="#e6e6e6" stroke-width="0.8" stroke-dasharray="1 2"/>
<line x1="283.55" y1="333.4" x2="283.55" y2="588.7" stroke="#e6e6e6" stroke-width="0.8" stroke-dasharray="1 2"/>
<line x1="44.3" y1="546.15" x2="331.4" y2="546.15" stroke="#e6e6e6" stroke-width="0.8" stroke-dasharray="1 2"/>
<line x1="44.3" y1="503.60" x2="331.4" y2="503.60" stroke="#e6e6e6" stroke-width="0.8" stroke-dasharray="1 2"/>
<line x1="44.3" y1="461.05" x2="331.4" y2="461.05" stroke="#e6e6e6" stroke-width="0.8" stroke-dasharray="1 2"/>
<line x1="44.3" y1="418.50" x2="331.4" y2="418.50" stroke="#e6e6e6" stroke-width="0.8" stroke-dasharray="1 2"/>
<line x1="44.3" y1="375.95" x2="331.4" y2="375.95" stroke="#e6e6e6" stroke-width="0.8" stroke-dasharray="1 2"/>
<line x1="44.30" y1="588.7" x2="44.30" y2="583.7" stroke="#8a8a8a" stroke-width="0.9"/>
<line x1="53.87" y1="588.7" x2="53.87" y2="585.2" stroke="#8a8a8a" stroke-width="0.9"/>
<line x1="63.44" y1="588.7" x2="63.44" y2="585.2" stroke="#8a8a8a" stroke-width="0.9"/>
<line x1="73.01" y1="588.7" x2="73.01" y2="585.2" stroke="#8a8a8a" stroke-width="0.9"/>
<line x1="82.58" y1="588.7" x2="82.58" y2="585.2" stroke="#8a8a8a" stroke-width="0.9"/>
<line x1="92.15" y1="588.7" x2="92.15" y2="583.7" stroke="#8a8a8a" stroke-width="0.9"/>
<line x1="101.72" y1="588.7" x2="101.72" y2="585.2" stroke="#8a8a8a" stroke-width="0.9"/>
<line x1="111.29" y1="588.7" x2="111.29" y2="585.2" stroke="#8a8a8a" stroke-width="0.9"/>
<line x1="120.86" y1="588.7" x2="120.86" y2="585.2" stroke="#8a8a8a" stroke-width="0.9"/>
<line x1="130.43" y1="588.7" x2="130.43" y2="585.2" stroke="#8a8a8a" stroke-width="0.9"/>
<line x1="140.00" y1="588.7" x2="140.00" y2="583.7" stroke="#8a8a8a" stroke-width="0.9"/>
<line x1="149.57" y1="588.7" x2="149.57" y2="585.2" stroke="#8a8a8a" stroke-width="0.9"/>
<line x1="159.14" y1="588.7" x2="159.14" y2="585.2" stroke="#8a8a8a" stroke-width="0.9"/>
<line x1="168.71" y1="588.7" x2="168.71" y2="585.2" stroke="#8a8a8a" stroke-width="0.9"/>
<line x1="178.28" y1="588.7" x2="178.28" y2="585.2" stroke="#8a8a8a" stroke-width="0.9"/>
<line x1="187.85" y1="588.7" x2="187.85" y2="583.7" stroke="#8a8a8a" stroke-width="0.9"/>
<line x1="197.42" y1="588.7" x2="197.42" y2="585.2" stroke="#8a8a8a" stroke-width="0.9"/>
<line x1="206.99" y1="588.7" x2="206.99" y2="585.2" stroke="#8a8a8a" stroke-width="0.9"/>
<line x1="216.56" y1="588.7" x2="216.56" y2="585.2" stroke="#8a8a8a" stroke-width="0.9"/>
<line x1="226.13" y1="588.7" x2="226.13" y2="585.2" stroke="#8a8a8a" stroke-width="0.9"/>
<line x1="235.70" y1="588.7" x2="235.70" y2="583.7" stroke="#8a8a8a" stroke-width="0.9"/>
<line x1="245.27" y1="588.7" x2="245.27" y2="585.2" stroke="#8a8a8a" stroke-width="0.9"/>
<line x1="254.84" y1="588.7" x2="254.84" y2="585.2" stroke="#8a8a8a" stroke-width="0.9"/>
<line x1="264.41" y1="588.7" x2="264.41" y2="585.2" stroke="#8a8a8a" stroke-width="0.9"/>
<line x1="273.98" y1="588.7" x2="273.98" y2="585.2" stroke="#8a8a8a" stroke-width="0.9"/>
<line x1="283.55" y1="588.7" x2="283.55" y2="583.7" stroke="#8a8a8a" stroke-width="0.9"/>
<line x1="293.12" y1="588.7" x2="293.12" y2="585.2" stroke="#8a8a8a" stroke-width="0.9"/>
<line x1="302.69" y1="588.7" x2="302.69" y2="585.2" stroke="#8a8a8a" stroke-width="0.9"/>
<line x1="312.26" y1="588.7" x2="312.26" y2="585.2" stroke="#8a8a8a" stroke-width="0.9"/>
<line x1="321.83" y1="588.7" x2="321.83" y2="585.2" stroke="#8a8a8a" stroke-width="0.9"/>
<line x1="331.40" y1="588.7" x2="331.40" y2="583.7" stroke="#8a8a8a" stroke-width="0.9"/>
<line x1="44.3" y1="588.70" x2="49.3" y2="588.70" stroke="#8a8a8a" stroke-width="0.9"/>
<line x1="44.3" y1="580.19" x2="47.8" y2="580.19" stroke="#8a8a8a" stroke-width="0.9"/>
<line x1="44.3" y1="571.68" x2="47.8" y2="571.68" stroke="#8a8a8a" stroke-width="0.9"/>
<line x1="44.3" y1="563.17" x2="47.8" y2="563.17" stroke="#8a8a8a" stroke-width="0.9"/>
<line x1="44.3" y1="554.66" x2="47.8" y2="554.66" stroke="#8a8a8a" stroke-width="0.9"/>
<line x1="44.3" y1="546.15" x2="49.3" y2="546.15" stroke="#8a8a8a" stroke-width="0.9"/>
<line x1="44.3" y1="537.64" x2="47.8" y2="537.64" stroke="#8a8a8a" stroke-width="0.9"/>
<line x1="44.3" y1="529.13" x2="47.8" y2="529.13" stroke="#8a8a8a" stroke-width="0.9"/>
<line x1="44.3" y1="520.62" x2="47.8" y2="520.62" stroke="#8a8a8a" stroke-width="0.9"/>
<line x1="44.3" y1="512.11" x2="47.8" y2="512.11" stroke="#8a8a8a" stroke-width="0.9"/>
<line x1="44.3" y1="503.60" x2="49.3" y2="503.60" stroke="#8a8a8a" stroke-width="0.9"/>
<line x1="44.3" y1="495.09" x2="47.8" y2="495.09" stroke="#8a8a8a" stroke-width="0.9"/>
<line x1="44.3" y1="486.58" x2="47.8" y2="486.58" stroke="#8a8a8a" stroke-width="0.9"/>
<line x1="44.3" y1="478.07" x2="47.8" y2="478.07" stroke="#8a8a8a" stroke-width="0.9"/>
<line x1="44.3" y1="469.56" x2="47.8" y2="469.56" stroke="#8a8a8a" stroke-width="0.9"/>
<line x1="44.3" y1="461.05" x2="49.3" y2="461.05" stroke="#8a8a8a" stroke-width="0.9"/>
<line x1="44.3" y1="452.54" x2="47.8" y2="452.54" stroke="#8a8a8a" stroke-width="0.9"/>
<line x1="44.3" y1="444.03" x2="47.8" y2="444.03" stroke="#8a8a8a" stroke-width="0.9"/>
<line x1="44.3" y1="435.52" x2="47.8" y2="435.52" stroke="#8a8a8a" stroke-width="0.9"/>
<line x1="44.3" y1="427.01" x2="47.8" y2="427.01" stroke="#8a8a8a" stroke-width="0.9"/>
<line x1="44.3" y1="418.50" x2="49.3" y2="418.50" stroke="#8a8a8a" stroke-width="0.9"/>
<line x1="44.3" y1="409.99" x2="47.8" y2="409.99" stroke="#8a8a8a" stroke-width="0.9"/>
<line x1="44.3" y1="401.48" x2="47.8" y2="401.48" stroke="#8a8a8a" stroke-width="0.9"/>
<line x1="44.3" y1="392.97" x2="47.8" y2="392.97" stroke="#8a8a8a" stroke-width="0.9"/>
<line x1="44.3" y1="384.46" x2="47.8" y2="384.46" stroke="#8a8a8a" stroke-width="0.9"/>
<line x1="44.3" y1="375.95" x2="49.3" y2="375.95" stroke="#8a8a8a" stroke-width="0.9"/>
<line x1="44.3" y1="367.44" x2="47.8" y2="367.44" stroke="#8a8a8a" stroke-width="0.9"/>
<line x1="44.3" y1="358.93" x2="47.8" y2="358.93" stroke="#8a8a8a" stroke-width="0.9"/>
<line x1="44.3" y1="350.42" x2="47.8" y2="350.42" stroke="#8a8a8a" stroke-width="0.9"/>
<line x1="44.3" y1="341.91" x2="47.8" y2="341.91" stroke="#8a8a8a" stroke-width="0.9"/>
<line x1="44.3" y1="333.40" x2="49.3" y2="333.40" stroke="#8a8a8a" stroke-width="0.9"/>
<clipPath id="cc"><rect x="44.3" y="333.4" width="287.09999999999997" height="255.30000000000007"/></clipPath>
<line x1="44.3" y1="375.95" x2="331.4" y2="375.95" stroke="#e4e4e4" stroke-width="1.0" stroke-dasharray="1 2"/>
<line x1="100.76" y1="355.95" x2="100.76" y2="588.70" stroke="#3333ee" stroke-width="1.5" stroke-dasharray="1.9 1.15"/>
<line x1="108.51" y1="389.74" x2="108.51" y2="588.70" stroke="#33ddee" stroke-width="1.5" stroke-dasharray="1.9 1.15"/>
<line x1="111.19" y1="392.97" x2="111.19" y2="588.70" stroke="#ff33dd" stroke-width="1.5" stroke-dasharray="1.9 1.15"/>
<line x1="135.41" y1="387.86" x2="135.41" y2="588.70" stroke="#222" stroke-width="1.5" stroke-dasharray="1.9 1.15"/>
<path d="M44.30,404.37 L45.26,404.02 L46.22,403.68 L47.18,403.34 L48.14,403.01 L49.10,402.68 L50.06,402.35 L51.02,402.02 L51.98,401.70 L52.94,401.39 L53.90,401.07 L54.86,400.76 L55.82,400.46 L56.78,400.16 L57.74,399.86 L58.70,399.56 L59.66,399.27 L60.62,398.98 L61.58,398.70 L62.54,398.42 L63.50,398.14 L64.46,397.87 L65.42,397.60 L66.38,397.34 L67.34,397.08 L68.31,396.82 L69.27,396.56 L70.23,396.31 L71.19,396.07 L72.15,395.82 L73.11,395.58 L74.07,395.35 L75.03,395.11 L75.99,394.88 L76.95,394.66 L77.91,394.44 L78.87,394.22 L79.83,394.01 L80.79,393.80 L81.75,393.59 L82.71,393.39 L83.67,393.19 L84.63,392.99 L85.59,392.80 L86.55,392.61 L87.51,392.43 L88.47,392.24 L89.43,392.07 L90.39,391.89 L91.35,391.72 L92.31,391.56 L93.27,391.39 L94.23,391.24 L95.19,391.08 L96.15,390.93 L97.11,390.78 L98.07,390.64 L99.03,390.50 L99.99,390.36 L100.95,390.22 L101.91,390.09 L102.87,389.97 L103.83,389.85 L104.79,389.73 L105.75,389.61 L106.71,389.50 L107.67,389.39 L108.63,389.29 L109.59,389.19 L110.55,389.09 L111.51,389.00 L112.47,388.91 L113.43,388.82 L114.39,388.74 L115.35,388.66 L116.32,388.59 L117.28,388.52 L118.24,388.45 L119.20,388.39 L120.16,388.33 L121.12,388.27 L122.08,388.22 L123.04,388.17 L124.00,388.12 L124.96,388.08 L125.92,388.04 L126.88,388.01 L127.84,387.98 L128.80,387.95 L129.76,387.93 L130.72,387.91 L131.68,387.89 L132.64,387.88 L133.60,387.87 L134.56,387.87 L135.52,387.86 L136.48,387.87 L137.44,387.87 L138.40,387.88 L139.36,387.90 L140.32,387.91 L141.28,387.93 L142.24,387.96 L143.20,387.98 L144.16,388.02 L145.12,388.05 L146.08,388.09 L147.04,388.13 L148.00,388.18 L148.96,388.23 L149.92,388.28 L150.88,388.34 L151.84,388.40 L152.80,388.47 L153.76,388.53 L154.72,388.61 L155.68,388.68 L156.64,388.76 L157.60,388.84 L158.56,388.93 L159.52,389.02 L160.48,389.11 L161.44,389.21 L162.40,389.31 L163.36,389.42 L164.33,389.53 L165.29,389.64 L166.25,389.76 L167.21,389.87 L168.17,390.00 L169.13,390.12 L170.09,390.26 L171.05,390.39 L172.01,390.53 L172.97,390.67 L173.93,390.81 L174.89,390.96 L175.85,391.12 L176.81,391.27 L177.77,391.43 L178.73,391.60 L179.69,391.76 L180.65,391.93 L181.61,392.11 L182.57,392.29 L183.53,392.47 L184.49,392.65 L185.45,392.84 L186.41,393.04 L187.37,393.23 L188.33,393.43 L189.29,393.64 L190.25,393.85 L191.21,394.06 L192.17,394.27 L193.13,394.49 L194.09,394.71 L195.05,394.94 L196.01,395.17 L196.97,395.40 L197.93,395.64 L198.89,395.88 L199.85,396.12 L200.81,396.37 L201.77,396.62 L202.73,396.88 L203.69,397.14 L204.65,397.40 L205.61,397.67 L206.57,397.94 L207.53,398.21 L208.49,398.49 L209.45,398.77 L210.41,399.05 L211.37,399.34 L212.34,399.63 L213.30,399.93 L214.26,400.23 L215.22,400.53 L216.18,400.84 L217.14,401.15 L218.10,401.46 L219.06,401.78 L220.02,402.10 L220.98,402.42 L221.94,402.75 L222.90,403.09 L223.86,403.42 L224.82,403.76 L225.78,404.10 L226.74,404.45 L227.70,404.80 L228.66,405.16 L229.62,405.51 L230.58,405.88 L231.54,406.24 L232.50,406.61 L233.46,406.98 L234.42,407.36 L235.38,407.74 L236.34,408.12 L237.30,408.51 L238.26,408.90 L239.22,409.29 L240.18,409.69 L241.14,410.09 L242.10,410.50 L243.06,410.91 L244.02,411.32 L244.98,411.74 L245.94,412.16 L246.90,412.58 L247.86,413.01 L248.82,413.44 L249.78,413.88 L250.74,414.32 L251.70,414.76 L252.66,415.20 L253.62,415.65 L254.58,416.11 L255.54,416.56 L256.50,417.02 L257.46,417.49 L258.42,417.96 L259.38,418.43 L260.35,418.90 L261.31,419.38 L262.27,419.86 L263.23,420.35 L264.19,420.84 L265.15,421.33 L266.11,421.83 L267.07,422.33 L268.03,422.84 L268.99,423.35 L269.95,423.86 L270.91,424.37 L271.87,424.89 L272.83,425.42 L273.79,425.94 L274.75,426.47 L275.71,427.01 L276.67,427.54 L277.63,428.09 L278.59,428.63 L279.55,429.18 L280.51,429.73 L281.47,430.29 L282.43,430.85 L283.39,431.41 L284.35,431.98 L285.31,432.55 L286.27,433.12 L287.23,433.70 L288.19,434.28 L289.15,434.87 L290.11,435.46 L291.07,436.05 L292.03,436.64 L292.99,437.24 L293.95,437.85 L294.91,438.46 L295.87,439.07 L296.83,439.68 L297.79,440.30 L298.75,440.92 L299.71,441.55 L300.67,442.18 L301.63,442.81 L302.59,443.45 L303.55,444.09 L304.51,444.73 L305.47,445.38 L306.43,446.03 L307.39,446.68 L308.36,447.34 L309.32,448.00 L310.28,448.67 L311.24,449.34 L312.20,450.01 L313.16,450.69 L314.12,451.37 L315.08,452.05 L316.04,452.74 L317.00,453.43 L317.96,454.13 L318.92,454.83 L319.88,455.53 L320.84,456.24 L321.80,456.95 L322.76,457.66 L323.72,458.38 L324.68,459.10 L325.64,459.82 L326.60,460.55 L327.56,461.28 L328.52,462.02 L329.48,462.76 L330.44,463.50 L331.40,464.25" stroke="#1a1a1a" stroke-width="1.5" fill="none" stroke-linejoin="round" clip-path="url(#cc)"/>
<path d="M44.30,426.52 L44.97,425.76 L45.64,425.00 L46.30,424.26 L46.97,423.52 L47.64,422.79 L48.31,422.07 L48.98,421.36 L49.64,420.65 L50.31,419.95 L50.98,419.26 L51.65,418.58 L52.32,417.91 L52.98,417.24 L53.65,416.59 L54.32,415.94 L54.99,415.29 L55.66,414.66 L56.32,414.03 L56.99,413.42 L57.66,412.81 L58.33,412.20 L59.00,411.61 L59.66,411.02 L60.33,410.45 L61.00,409.88 L61.67,409.31 L62.34,408.76 L63.00,408.21 L63.67,407.67 L64.34,407.14 L65.01,406.62 L65.68,406.11 L66.34,405.60 L67.01,405.10 L67.68,404.61 L68.35,404.13 L69.02,403.65 L69.68,403.19 L70.35,402.73 L71.02,402.28 L71.69,401.83 L72.36,401.40 L73.02,400.97 L73.69,400.55 L74.36,400.14 L75.03,399.74 L75.70,399.34 L76.36,398.96 L77.03,398.58 L77.70,398.21 L78.37,397.84 L79.03,397.49 L79.70,397.14 L80.37,396.80 L81.04,396.47 L81.71,396.15 L82.37,395.83 L83.04,395.52 L83.71,395.22 L84.38,394.93 L85.05,394.65 L85.71,394.37 L86.38,394.11 L87.05,393.85 L87.72,393.59 L88.39,393.35 L89.05,393.11 L89.72,392.89 L90.39,392.67 L91.06,392.45 L91.73,392.25 L92.39,392.05 L93.06,391.87 L93.73,391.69 L94.40,391.51 L95.07,391.35 L95.73,391.19 L96.40,391.04 L97.07,390.90 L97.74,390.77 L98.41,390.65 L99.07,390.53 L99.74,390.42 L100.41,390.32 L101.08,390.23 L101.75,390.14 L102.41,390.07 L103.08,390.00 L103.75,389.94 L104.42,389.89 L105.09,389.84 L105.75,389.80 L106.42,389.78 L107.09,389.75 L107.76,389.74 L108.43,389.74 L109.09,389.74 L109.76,389.75 L110.43,389.77 L111.10,389.80 L111.77,389.83 L112.43,389.87 L113.10,389.92 L113.77,389.98 L114.44,390.05 L115.11,390.12 L115.77,390.21 L116.44,390.30 L117.11,390.40 L117.78,390.50 L118.45,390.62 L119.11,390.74 L119.78,390.87 L120.45,391.01 L121.12,391.15 L121.79,391.31 L122.45,391.47 L123.12,391.64 L123.79,391.82 L124.46,392.00 L125.13,392.20 L125.79,392.40 L126.46,392.61 L127.13,392.83 L127.80,393.05 L128.47,393.29 L129.13,393.53 L129.80,393.78 L130.47,394.04 L131.14,394.30 L131.81,394.58 L132.47,394.86 L133.14,395.15 L133.81,395.44 L134.48,395.75 L135.15,396.06 L135.81,396.38 L136.48,396.71 L137.15,397.05 L137.82,397.40 L138.49,397.75 L139.15,398.11 L139.82,398.48 L140.49,398.86 L141.16,399.24 L141.83,399.63 L142.49,400.03 L143.16,400.44 L143.83,400.86 L144.50,401.29 L145.16,401.72 L145.83,402.16 L146.50,402.61 L147.17,403.06 L147.84,403.53 L148.50,404.00 L149.17,404.48 L149.84,404.97 L150.51,405.47 L151.18,405.97 L151.84,406.48 L152.51,407.00 L153.18,407.53 L153.85,408.07 L154.52,408.61 L155.18,409.17 L155.85,409.73 L156.52,410.29 L157.19,410.87 L157.86,411.45 L158.52,412.05 L159.19,412.65 L159.86,413.25 L160.53,413.87 L161.20,414.49 L161.86,415.12 L162.53,415.76 L163.20,416.41 L163.87,417.07 L164.54,417.73 L165.20,418.40 L165.87,419.08 L166.54,419.77 L167.21,420.47 L167.88,421.17 L168.54,421.88 L169.21,422.60 L169.88,423.33 L170.55,424.06 L171.22,424.81 L171.88,425.56 L172.55,426.32 L173.22,427.08 L173.89,427.86 L174.56,428.64 L175.22,429.43 L175.89,430.23 L176.56,431.04 L177.23,431.85 L177.90,432.68 L178.56,433.51 L179.23,434.35 L179.90,435.19 L180.57,436.05 L181.24,436.91 L181.90,437.78 L182.57,438.66 L183.24,439.55 L183.91,440.44 L184.58,441.34 L185.24,442.25 L185.91,443.17 L186.58,444.10 L187.25,445.03 L187.92,445.97 L188.58,446.92 L189.25,447.88 L189.92,448.85 L190.59,449.82 L191.26,450.80 L191.92,451.79 L192.59,452.79 L193.26,453.80 L193.93,454.81 L194.60,455.83 L195.26,456.86 L195.93,457.90 L196.60,458.95 L197.27,460.00 L197.94,461.06 L198.60,462.13 L199.27,463.21 L199.94,464.30 L200.61,465.39 L201.28,466.49 L201.94,467.60 L202.61,468.72 L203.28,469.84 L203.95,470.98 L204.62,472.12 L205.28,473.27 L205.95,474.42 L206.62,475.59 L207.29,476.76 L207.96,477.94 L208.62,479.13 L209.29,480.33 L209.96,481.53 L210.63,482.75 L211.29,483.97 L211.96,485.20 L212.63,486.43 L213.30,487.68 L213.97,488.93 L214.63,490.19 L215.30,491.46 L215.97,492.74 L216.64,494.02 L217.31,495.31 L217.97,496.61 L218.64,497.92 L219.31,499.24 L219.98,500.56 L220.65,501.90 L221.31,503.24 L221.98,504.58 L222.65,505.94 L223.32,507.30 L223.99,508.68 L224.65,510.06 L225.32,511.44 L225.99,512.84 L226.66,514.24 L227.33,515.66 L227.99,517.08 L228.66,518.50 L229.33,519.94 L230.00,521.38 L230.67,522.84 L231.33,524.30 L232.00,525.76 L232.67,527.24 L233.34,528.72 L234.01,530.21 L234.67,531.71 L235.34,533.22 L236.01,534.74 L236.68,536.26 L237.35,537.79 L238.01,539.33 L238.68,540.88 L239.35,542.43 L240.02,544.00 L240.69,545.57 L241.35,547.15 L242.02,548.73 L242.69,550.33 L243.36,551.93 L244.03,553.54" stroke="#22eeff" stroke-width="1.6" fill="none" stroke-linejoin="round" clip-path="url(#cc)"/>
<path d="M44.30,440.37 L44.94,439.48 L45.57,438.59 L46.21,437.71 L46.84,436.84 L47.48,435.98 L48.11,435.12 L48.75,434.28 L49.38,433.44 L50.02,432.61 L50.65,431.79 L51.29,430.98 L51.92,430.18 L52.56,429.39 L53.19,428.60 L53.83,427.83 L54.47,427.06 L55.10,426.30 L55.74,425.55 L56.37,424.81 L57.01,424.07 L57.64,423.35 L58.28,422.63 L58.91,421.92 L59.55,421.22 L60.18,420.53 L60.82,419.85 L61.45,419.18 L62.09,418.51 L62.72,417.86 L63.36,417.21 L64.00,416.57 L64.63,415.94 L65.27,415.31 L65.90,414.70 L66.54,414.10 L67.17,413.50 L67.81,412.91 L68.44,412.33 L69.08,411.76 L69.71,411.20 L70.35,410.64 L70.98,410.10 L71.62,409.56 L72.25,409.03 L72.89,408.51 L73.53,408.00 L74.16,407.50 L74.80,407.00 L75.43,406.52 L76.07,406.04 L76.70,405.57 L77.34,405.11 L77.97,404.66 L78.61,404.22 L79.24,403.78 L79.88,403.36 L80.51,402.94 L81.15,402.53 L81.78,402.13 L82.42,401.74 L83.06,401.36 L83.69,400.98 L84.33,400.62 L84.96,400.26 L85.60,399.91 L86.23,399.57 L86.87,399.24 L87.50,398.92 L88.14,398.60 L88.77,398.30 L89.41,398.00 L90.04,397.71 L90.68,397.43 L91.31,397.16 L91.95,396.89 L92.59,396.64 L93.22,396.39 L93.86,396.15 L94.49,395.93 L95.13,395.70 L95.76,395.49 L96.40,395.29 L97.03,395.09 L97.67,394.91 L98.30,394.73 L98.94,394.56 L99.57,394.40 L100.21,394.25 L100.84,394.10 L101.48,393.97 L102.12,393.84 L102.75,393.73 L103.39,393.62 L104.02,393.52 L104.66,393.42 L105.29,393.34 L105.93,393.26 L106.56,393.20 L107.20,393.14 L107.83,393.09 L108.47,393.05 L109.10,393.02 L109.74,392.99 L110.37,392.98 L111.01,392.97 L111.65,392.97 L112.28,392.98 L112.92,393.00 L113.55,393.03 L114.19,393.06 L114.82,393.11 L115.46,393.16 L116.09,393.22 L116.73,393.29 L117.36,393.37 L118.00,393.46 L118.63,393.56 L119.27,393.66 L119.90,393.77 L120.54,393.90 L121.18,394.03 L121.81,394.16 L122.45,394.31 L123.08,394.47 L123.72,394.63 L124.35,394.80 L124.99,394.99 L125.62,395.18 L126.26,395.37 L126.89,395.58 L127.53,395.80 L128.16,396.02 L128.80,396.25 L129.43,396.49 L130.07,396.74 L130.71,397.00 L131.34,397.27 L131.98,397.54 L132.61,397.83 L133.25,398.12 L133.88,398.42 L134.52,398.73 L135.15,399.05 L135.79,399.38 L136.42,399.71 L137.06,400.06 L137.69,400.41 L138.33,400.77 L138.96,401.14 L139.60,401.52 L140.24,401.90 L140.87,402.30 L141.51,402.70 L142.14,403.11 L142.78,403.54 L143.41,403.97 L144.05,404.40 L144.68,404.85 L145.32,405.30 L145.95,405.77 L146.59,406.24 L147.22,406.72 L147.86,407.21 L148.49,407.71 L149.13,408.21 L149.77,408.73 L150.40,409.25 L151.04,409.78 L151.67,410.33 L152.31,410.87 L152.94,411.43 L153.58,412.00 L154.21,412.57 L154.85,413.16 L155.48,413.75 L156.12,414.35 L156.75,414.96 L157.39,415.57 L158.02,416.20 L158.66,416.84 L159.30,417.48 L159.93,418.13 L160.57,418.79 L161.20,419.46 L161.84,420.14 L162.47,420.82 L163.11,421.52 L163.74,422.22 L164.38,422.93 L165.01,423.65 L165.65,424.38 L166.28,425.12 L166.92,425.86 L167.55,426.62 L168.19,427.38 L168.83,428.15 L169.46,428.93 L170.10,429.72 L170.73,430.52 L171.37,431.32 L172.00,432.14 L172.64,432.96 L173.27,433.79 L173.91,434.63 L174.54,435.48 L175.18,436.34 L175.81,437.20 L176.45,438.08 L177.08,438.96 L177.72,439.85 L178.36,440.75 L178.99,441.66 L179.63,442.57 L180.26,443.50 L180.90,444.43 L181.53,445.38 L182.17,446.33 L182.80,447.29 L183.44,448.26 L184.07,449.23 L184.71,450.22 L185.34,451.21 L185.98,452.21 L186.61,453.22 L187.25,454.24 L187.89,455.27 L188.52,456.31 L189.16,457.35 L189.79,458.41 L190.43,459.47 L191.06,460.54 L191.70,461.62 L192.33,462.71 L192.97,463.80 L193.60,464.91 L194.24,466.02 L194.87,467.14 L195.51,468.27 L196.14,469.41 L196.78,470.56 L197.42,471.72 L198.05,472.88 L198.69,474.06 L199.32,475.24 L199.96,476.43 L200.59,477.63 L201.23,478.83 L201.86,480.05 L202.50,481.28 L203.13,482.51 L203.77,483.75 L204.40,485.00 L205.04,486.26 L205.67,487.53 L206.31,488.80 L206.95,490.09 L207.58,491.38 L208.22,492.68 L208.85,493.99 L209.49,495.31 L210.12,496.64 L210.76,497.97 L211.39,499.32 L212.03,500.67 L212.66,502.03 L213.30,503.40 L213.93,504.78 L214.57,506.17 L215.20,507.56 L215.84,508.97 L216.48,510.38 L217.11,511.80 L217.75,513.23 L218.38,514.67 L219.02,516.12 L219.65,517.57 L220.29,519.04 L220.92,520.51 L221.56,521.99 L222.19,523.48 L222.83,524.98 L223.46,526.49 L224.10,528.00 L224.73,529.53 L225.37,531.06 L226.01,532.60 L226.64,534.15 L227.28,535.71 L227.91,537.27 L228.55,538.85 L229.18,540.43 L229.82,542.03 L230.45,543.63 L231.09,545.24 L231.72,546.85 L232.36,548.48 L232.99,550.12 L233.63,551.76 L234.26,553.41" stroke="#ff22bb" stroke-width="1.6" fill="none" stroke-linejoin="round" clip-path="url(#cc)"/>
<path d="M44.30,592.94 L44.68,589.72 L45.07,586.53 L45.45,583.36 L45.84,580.22 L46.22,577.09 L46.60,573.99 L46.99,570.91 L47.37,567.85 L47.76,564.81 L48.14,561.79 L48.52,558.80 L48.91,555.83 L49.29,552.88 L49.68,549.95 L50.06,547.04 L50.45,544.16 L50.83,541.30 L51.21,538.46 L51.60,535.64 L51.98,532.84 L52.37,530.07 L52.75,527.31 L53.13,524.58 L53.52,521.88 L53.90,519.19 L54.29,516.52 L54.67,513.88 L55.05,511.26 L55.44,508.66 L55.82,506.08 L56.21,503.53 L56.59,501.00 L56.97,498.48 L57.36,495.99 L57.74,493.53 L58.13,491.08 L58.51,488.66 L58.90,486.26 L59.28,483.88 L59.66,481.52 L60.05,479.18 L60.43,476.87 L60.82,474.58 L61.20,472.31 L61.58,470.06 L61.97,467.83 L62.35,465.63 L62.74,463.45 L63.12,461.28 L63.50,459.15 L63.89,457.03 L64.27,454.94 L64.66,452.86 L65.04,450.81 L65.42,448.78 L65.81,446.78 L66.19,444.79 L66.58,442.83 L66.96,440.89 L67.34,438.97 L67.73,437.07 L68.11,435.19 L68.50,433.34 L68.88,431.51 L69.27,429.70 L69.65,427.91 L70.03,426.15 L70.42,424.40 L70.80,422.68 L71.19,420.98 L71.57,419.30 L71.95,417.65 L72.34,416.01 L72.72,414.40 L73.11,412.81 L73.49,411.24 L73.87,409.70 L74.26,408.17 L74.64,406.67 L75.03,405.19 L75.41,403.73 L75.79,402.29 L76.18,400.88 L76.56,399.49 L76.95,398.12 L77.33,396.77 L77.71,395.44 L78.10,394.13 L78.48,392.85 L78.87,391.59 L79.25,390.35 L79.64,389.13 L80.02,387.94 L80.40,386.76 L80.79,385.61 L81.17,384.48 L81.56,383.38 L81.94,382.29 L82.32,381.23 L82.71,380.18 L83.09,379.16 L83.48,378.17 L83.86,377.19 L84.24,376.24 L84.63,375.30 L85.01,374.39 L85.40,373.50 L85.78,372.64 L86.16,371.79 L86.55,370.97 L86.93,370.17 L87.32,369.39 L87.70,368.63 L88.09,367.90 L88.47,367.19 L88.85,366.50 L89.24,365.83 L89.62,365.18 L90.01,364.55 L90.39,363.95 L90.77,363.37 L91.16,362.81 L91.54,362.27 L91.93,361.76 L92.31,361.26 L92.69,360.79 L93.08,360.34 L93.46,359.91 L93.85,359.51 L94.23,359.12 L94.61,358.76 L95.00,358.42 L95.38,358.10 L95.77,357.81 L96.15,357.53 L96.53,357.28 L96.92,357.05 L97.30,356.84 L97.69,356.65 L98.07,356.49 L98.46,356.35 L98.84,356.23 L99.22,356.13 L99.61,356.05 L99.99,356.00 L100.38,355.96 L100.76,355.95 L101.14,355.96 L101.53,355.99 L101.91,356.05 L102.30,356.13 L102.68,356.22 L103.06,356.35 L103.45,356.49 L103.83,356.65 L104.22,356.84 L104.60,357.05 L104.98,357.28 L105.37,357.53 L105.75,357.80 L106.14,358.10 L106.52,358.42 L106.91,358.76 L107.29,359.12 L107.67,359.50 L108.06,359.91 L108.44,360.33 L108.83,360.78 L109.21,361.25 L109.59,361.75 L109.98,362.26 L110.36,362.80 L110.75,363.36 L111.13,363.94 L111.51,364.54 L111.90,365.17 L112.28,365.82 L112.67,366.48 L113.05,367.17 L113.43,367.89 L113.82,368.62 L114.20,369.38 L114.59,370.16 L114.97,370.96 L115.35,371.78 L115.74,372.62 L116.12,373.49 L116.51,374.38 L116.89,375.29 L117.28,376.22 L117.66,377.17 L118.04,378.15 L118.43,379.15 L118.81,380.17 L119.20,381.21 L119.58,382.27 L119.96,383.36 L120.35,384.46 L120.73,385.59 L121.12,386.74 L121.50,387.92 L121.88,389.11 L122.27,390.33 L122.65,391.57 L123.04,392.83 L123.42,394.11 L123.80,395.42 L124.19,396.74 L124.57,398.09 L124.96,399.46 L125.34,400.86 L125.73,402.27 L126.11,403.71 L126.49,405.16 L126.88,406.64 L127.26,408.15 L127.65,409.67 L128.03,411.22 L128.41,412.78 L128.80,414.37 L129.18,415.99 L129.57,417.62 L129.95,419.28 L130.33,420.95 L130.72,422.65 L131.10,424.37 L131.49,426.12 L131.87,427.88 L132.25,429.67 L132.64,431.48 L133.02,433.31 L133.41,435.16 L133.79,437.04 L134.17,438.94 L134.56,440.85 L134.94,442.80 L135.33,444.76 L135.71,446.74 L136.10,448.75 L136.48,450.78 L136.86,452.83 L137.25,454.90 L137.63,456.99 L138.02,459.11 L138.40,461.25 L138.78,463.41 L139.17,465.59 L139.55,467.79 L139.94,470.02 L140.32,472.27 L140.70,474.54 L141.09,476.83 L141.47,479.14 L141.86,481.48 L142.24,483.84 L142.62,486.22 L143.01,488.62 L143.39,491.04 L143.78,493.49 L144.16,495.95 L144.54,498.44 L144.93,500.95 L145.31,503.49 L145.70,506.04 L146.08,508.62 L146.47,511.22 L146.85,513.84 L147.23,516.48 L147.62,519.14 L148.00,521.83 L148.39,524.54 L148.77,527.27 L149.15,530.02 L149.54,532.80 L149.92,535.59 L150.31,538.41 L150.69,541.25 L151.07,544.11 L151.46,547.00 L151.84,549.90 L152.23,552.83 L152.61,555.78 L152.99,558.75 L153.38,561.74 L153.76,564.76 L154.15,567.80 L154.53,570.86 L154.92,573.94 L155.30,577.04 L155.68,580.16 L156.07,583.31 L156.45,586.48 L156.84,589.67 L157.22,592.88 L157.60,596.12 L157.99,599.38 L158.37,602.65 L158.76,605.95 L159.14,609.28" stroke="#4444ff" stroke-width="1.6" fill="none" stroke-linejoin="round" clip-path="url(#cc)"/>
<circle cx="100.76" cy="355.95" r="2.3" fill="#1a1aee"/>
<circle cx="108.51" cy="389.74" r="2.3" fill="#22ddee"/>
<circle cx="111.19" cy="392.97" r="2.3" fill="#ff22dd"/>
<circle cx="135.41" cy="387.86" r="2.3" fill="#000"/>
<path d="M44.3,333.4 L331.4,333.4" stroke="#bdbdbd" stroke-width="1.9" fill="none"/>
<path d="M331.4,333.4 L331.4,588.7" stroke="#a8a8a8" stroke-width="1.3" fill="none"/>
<path d="M44.3,333.4 L44.3,588.7 L331.4,588.7" stroke="#c0c0c0" stroke-width="1.9" fill="none" stroke-linejoin="round"/>
<rect x="576.00" y="527.90" width="2.6" height="12.2" fill="#ee1122"/>
<rect x="576.60" y="530.90" width="56.00" height="6.2" fill="#ff0000"/>
<path d="M632.60,528.60 L640.80,534.00 L632.60,539.40 Z" fill="#ff0000"/>
<line x1="503.20" y1="333.4" x2="503.20" y2="588.7" stroke="#e6e6e6" stroke-width="0.8" stroke-dasharray="1 2"/>
<line x1="575.00" y1="333.4" x2="575.00" y2="588.7" stroke="#e6e6e6" stroke-width="0.8" stroke-dasharray="1 2"/>
<line x1="646.80" y1="333.4" x2="646.80" y2="588.7" stroke="#e6e6e6" stroke-width="0.8" stroke-dasharray="1 2"/>
<line x1="431.4" y1="546.15" x2="718.6" y2="546.15" stroke="#e6e6e6" stroke-width="0.8" stroke-dasharray="1 2"/>
<line x1="431.4" y1="503.60" x2="718.6" y2="503.60" stroke="#e6e6e6" stroke-width="0.8" stroke-dasharray="1 2"/>
<line x1="431.4" y1="461.05" x2="718.6" y2="461.05" stroke="#e6e6e6" stroke-width="0.8" stroke-dasharray="1 2"/>
<line x1="431.4" y1="418.50" x2="718.6" y2="418.50" stroke="#e6e6e6" stroke-width="0.8" stroke-dasharray="1 2"/>
<line x1="431.4" y1="375.95" x2="718.6" y2="375.95" stroke="#e6e6e6" stroke-width="0.8" stroke-dasharray="1 2"/>
<line x1="431.40" y1="588.7" x2="431.40" y2="583.7" stroke="#8a8a8a" stroke-width="0.9"/>
<line x1="445.76" y1="588.7" x2="445.76" y2="585.2" stroke="#8a8a8a" stroke-width="0.9"/>
<line x1="460.12" y1="588.7" x2="460.12" y2="585.2" stroke="#8a8a8a" stroke-width="0.9"/>
<line x1="474.48" y1="588.7" x2="474.48" y2="585.2" stroke="#8a8a8a" stroke-width="0.9"/>
<line x1="488.84" y1="588.7" x2="488.84" y2="585.2" stroke="#8a8a8a" stroke-width="0.9"/>
<line x1="503.20" y1="588.7" x2="503.20" y2="583.7" stroke="#8a8a8a" stroke-width="0.9"/>
<line x1="517.56" y1="588.7" x2="517.56" y2="585.2" stroke="#8a8a8a" stroke-width="0.9"/>
<line x1="531.92" y1="588.7" x2="531.92" y2="585.2" stroke="#8a8a8a" stroke-width="0.9"/>
<line x1="546.28" y1="588.7" x2="546.28" y2="585.2" stroke="#8a8a8a" stroke-width="0.9"/>
<line x1="560.64" y1="588.7" x2="560.64" y2="585.2" stroke="#8a8a8a" stroke-width="0.9"/>
<line x1="575.00" y1="588.7" x2="575.00" y2="583.7" stroke="#8a8a8a" stroke-width="0.9"/>
<line x1="589.36" y1="588.7" x2="589.36" y2="585.2" stroke="#8a8a8a" stroke-width="0.9"/>
<line x1="603.72" y1="588.7" x2="603.72" y2="585.2" stroke="#8a8a8a" stroke-width="0.9"/>
<line x1="618.08" y1="588.7" x2="618.08" y2="585.2" stroke="#8a8a8a" stroke-width="0.9"/>
<line x1="632.44" y1="588.7" x2="632.44" y2="585.2" stroke="#8a8a8a" stroke-width="0.9"/>
<line x1="646.80" y1="588.7" x2="646.80" y2="583.7" stroke="#8a8a8a" stroke-width="0.9"/>
<line x1="661.16" y1="588.7" x2="661.16" y2="585.2" stroke="#8a8a8a" stroke-width="0.9"/>
<line x1="675.52" y1="588.7" x2="675.52" y2="585.2" stroke="#8a8a8a" stroke-width="0.9"/>
<line x1="689.88" y1="588.7" x2="689.88" y2="585.2" stroke="#8a8a8a" stroke-width="0.9"/>
<line x1="704.24" y1="588.7" x2="704.24" y2="585.2" stroke="#8a8a8a" stroke-width="0.9"/>
<line x1="718.60" y1="588.7" x2="718.60" y2="583.7" stroke="#8a8a8a" stroke-width="0.9"/>
<line x1="431.4" y1="588.70" x2="436.4" y2="588.70" stroke="#8a8a8a" stroke-width="0.9"/>
<line x1="431.4" y1="578.06" x2="434.9" y2="578.06" stroke="#8a8a8a" stroke-width="0.9"/>
<line x1="431.4" y1="567.43" x2="434.9" y2="567.43" stroke="#8a8a8a" stroke-width="0.9"/>
<line x1="431.4" y1="556.79" x2="434.9" y2="556.79" stroke="#8a8a8a" stroke-width="0.9"/>
<line x1="431.4" y1="546.15" x2="436.4" y2="546.15" stroke="#8a8a8a" stroke-width="0.9"/>
<line x1="431.4" y1="535.51" x2="434.9" y2="535.51" stroke="#8a8a8a" stroke-width="0.9"/>
<line x1="431.4" y1="524.88" x2="434.9" y2="524.88" stroke="#8a8a8a" stroke-width="0.9"/>
<line x1="431.4" y1="514.24" x2="434.9" y2="514.24" stroke="#8a8a8a" stroke-width="0.9"/>
<line x1="431.4" y1="503.60" x2="436.4" y2="503.60" stroke="#8a8a8a" stroke-width="0.9"/>
<line x1="431.4" y1="492.96" x2="434.9" y2="492.96" stroke="#8a8a8a" stroke-width="0.9"/>
<line x1="431.4" y1="482.33" x2="434.9" y2="482.33" stroke="#8a8a8a" stroke-width="0.9"/>
<line x1="431.4" y1="471.69" x2="434.9" y2="471.69" stroke="#8a8a8a" stroke-width="0.9"/>
<line x1="431.4" y1="461.05" x2="436.4" y2="461.05" stroke="#8a8a8a" stroke-width="0.9"/>
<line x1="431.4" y1="450.41" x2="434.9" y2="450.41" stroke="#8a8a8a" stroke-width="0.9"/>
<line x1="431.4" y1="439.77" x2="434.9" y2="439.77" stroke="#8a8a8a" stroke-width="0.9"/>
<line x1="431.4" y1="429.14" x2="434.9" y2="429.14" stroke="#8a8a8a" stroke-width="0.9"/>
<line x1="431.4" y1="418.50" x2="436.4" y2="418.50" stroke="#8a8a8a" stroke-width="0.9"/>
<line x1="431.4" y1="407.86" x2="434.9" y2="407.86" stroke="#8a8a8a" stroke-width="0.9"/>
<line x1="431.4" y1="397.23" x2="434.9" y2="397.23" stroke="#8a8a8a" stroke-width="0.9"/>
<line x1="431.4" y1="386.59" x2="434.9" y2="386.59" stroke="#8a8a8a" stroke-width="0.9"/>
<line x1="431.4" y1="375.95" x2="436.4" y2="375.95" stroke="#8a8a8a" stroke-width="0.9"/>
<line x1="431.4" y1="365.31" x2="434.9" y2="365.31" stroke="#8a8a8a" stroke-width="0.9"/>
<line x1="431.4" y1="354.67" x2="434.9" y2="354.67" stroke="#8a8a8a" stroke-width="0.9"/>
<line x1="431.4" y1="344.04" x2="434.9" y2="344.04" stroke="#8a8a8a" stroke-width="0.9"/>
<line x1="431.4" y1="333.40" x2="436.4" y2="333.40" stroke="#8a8a8a" stroke-width="0.9"/>
<clipPath id="cd"><rect x="431.4" y="333.4" width="287.20000000000005" height="255.30000000000007"/></clipPath>
<line x1="431.4" y1="375.95" x2="718.6" y2="375.95" stroke="#e4e4e4" stroke-width="1.0" stroke-dasharray="1 2"/>
<line x1="515.41" y1="381.27" x2="515.41" y2="588.70" stroke="#44dd44" stroke-width="1.5" stroke-dasharray="1.9 1.15"/>
<line x1="484.17" y1="443.39" x2="484.17" y2="588.70" stroke="#ff4444" stroke-width="1.5" stroke-dasharray="1.9 1.15"/>
<line x1="576.94" y1="389.03" x2="576.94" y2="588.70" stroke="#9933ff" stroke-width="1.5" stroke-dasharray="1.9 1.15"/>
<path d="M438.58,476.02 L439.23,474.43 L439.88,472.85 L440.53,471.28 L441.17,469.73 L441.82,468.19 L442.47,466.67 L443.12,465.16 L443.77,463.66 L444.42,462.17 L445.06,460.70 L445.71,459.24 L446.36,457.80 L447.01,456.37 L447.66,454.95 L448.31,453.55 L448.95,452.16 L449.60,450.78 L450.25,449.42 L450.90,448.07 L451.55,446.73 L452.20,445.41 L452.84,444.10 L453.49,442.81 L454.14,441.52 L454.79,440.26 L455.44,439.00 L456.09,437.76 L456.73,436.53 L457.38,435.32 L458.03,434.12 L458.68,432.93 L459.33,431.75 L459.98,430.59 L460.62,429.45 L461.27,428.31 L461.92,427.19 L462.57,426.09 L463.22,424.99 L463.87,423.91 L464.51,422.85 L465.16,421.79 L465.81,420.75 L466.46,419.73 L467.11,418.72 L467.76,417.72 L468.40,416.73 L469.05,415.76 L469.70,414.80 L470.35,413.86 L471.00,412.93 L471.65,412.01 L472.29,411.11 L472.94,410.21 L473.59,409.34 L474.24,408.47 L474.89,407.62 L475.54,406.79 L476.18,405.96 L476.83,405.15 L477.48,404.36 L478.13,403.58 L478.78,402.81 L479.43,402.05 L480.08,401.31 L480.72,400.58 L481.37,399.86 L482.02,399.16 L482.67,398.47 L483.32,397.80 L483.97,397.14 L484.61,396.49 L485.26,395.86 L485.91,395.24 L486.56,394.63 L487.21,394.03 L487.86,393.45 L488.50,392.89 L489.15,392.33 L489.80,391.79 L490.45,391.27 L491.10,390.76 L491.75,390.26 L492.39,389.77 L493.04,389.30 L493.69,388.84 L494.34,388.39 L494.99,387.96 L495.64,387.54 L496.28,387.14 L496.93,386.75 L497.58,386.37 L498.23,386.01 L498.88,385.65 L499.53,385.32 L500.17,384.99 L500.82,384.68 L501.47,384.39 L502.12,384.10 L502.77,383.83 L503.42,383.58 L504.06,383.33 L504.71,383.10 L505.36,382.89 L506.01,382.69 L506.66,382.50 L507.31,382.32 L507.95,382.16 L508.60,382.01 L509.25,381.88 L509.90,381.76 L510.55,381.65 L511.20,381.55 L511.84,381.47 L512.49,381.40 L513.14,381.35 L513.79,381.31 L514.44,381.28 L515.09,381.27 L515.73,381.27 L516.38,381.28 L517.03,381.31 L517.68,381.35 L518.33,381.40 L518.98,381.47 L519.63,381.55 L520.27,381.64 L520.92,381.75 L521.57,381.87 L522.22,382.00 L522.87,382.15 L523.52,382.31 L524.16,382.48 L524.81,382.66 L525.46,382.86 L526.11,383.07 L526.76,383.30 L527.41,383.54 L528.05,383.79 L528.70,384.06 L529.35,384.33 L530.00,384.63 L530.65,384.93 L531.30,385.25 L531.94,385.58 L532.59,385.93 L533.24,386.28 L533.89,386.65 L534.54,387.04 L535.19,387.44 L535.83,387.85 L536.48,388.27 L537.13,388.71 L537.78,389.16 L538.43,389.62 L539.08,390.10 L539.72,390.59 L540.37,391.10 L541.02,391.61 L541.67,392.14 L542.32,392.69 L542.97,393.24 L543.61,393.81 L544.26,394.40 L544.91,394.99 L545.56,395.60 L546.21,396.23 L546.86,396.86 L547.50,397.51 L548.15,398.17 L548.80,398.85 L549.45,399.54 L550.10,400.24 L550.75,400.96 L551.39,401.69 L552.04,402.43 L552.69,403.18 L553.34,403.95 L553.99,404.74 L554.64,405.53 L555.29,406.34 L555.93,407.16 L556.58,408.00 L557.23,408.85 L557.88,409.71 L558.53,410.58 L559.18,411.47 L559.82,412.37 L560.47,413.29 L561.12,414.21 L561.77,415.15 L562.42,416.11 L563.07,417.08 L563.71,418.06 L564.36,419.05 L565.01,420.06 L565.66,421.08 L566.31,422.11 L566.96,423.16 L567.60,424.22 L568.25,425.30 L568.90,426.38 L569.55,427.48 L570.20,428.60 L570.85,429.72 L571.49,430.86 L572.14,432.02 L572.79,433.18 L573.44,434.36 L574.09,435.55 L574.74,436.76 L575.38,437.98 L576.03,439.21 L576.68,440.46 L577.33,441.72 L577.98,442.99 L578.63,444.28 L579.27,445.58 L579.92,446.89 L580.57,448.21 L581.22,449.55 L581.87,450.90 L582.52,452.27 L583.16,453.65 L583.81,455.04 L584.46,456.44 L585.11,457.86 L585.76,459.29 L586.41,460.74 L587.05,462.20 L587.70,463.67 L588.35,465.15 L589.00,466.65 L589.65,468.16 L590.30,469.69 L590.94,471.22 L591.59,472.77 L592.24,474.34 L592.89,475.92 L593.54,477.51 L594.19,479.11 L594.84,480.73 L595.48,482.36 L596.13,484.00 L596.78,485.66 L597.43,487.33 L598.08,489.01 L598.73,490.71 L599.37,492.42 L600.02,494.14 L600.67,495.88 L601.32,497.63 L601.97,499.39 L602.62,501.17 L603.26,502.96 L603.91,504.76 L604.56,506.57 L605.21,508.40 L605.86,510.25 L606.51,512.10 L607.15,513.97 L607.80,515.85 L608.45,517.75 L609.10,519.66 L609.75,521.58 L610.40,523.51 L611.04,525.46 L611.69,527.42 L612.34,529.40 L612.99,531.39 L613.64,533.39 L614.29,535.40 L614.93,537.43 L615.58,539.47 L616.23,541.53 L616.88,543.59 L617.53,545.68 L618.18,547.77 L618.82,549.88 L619.47,552.00 L620.12,554.13 L620.77,556.28 L621.42,558.44 L622.07,560.61 L622.71,562.80 L623.36,565.00 L624.01,567.21 L624.66,569.44 L625.31,571.68 L625.96,573.93 L626.60,576.20 L627.25,578.48 L627.90,580.77 L628.55,583.08 L629.20,585.40 L629.85,587.73 L630.49,590.08 L631.14,592.44 L631.79,594.81 L632.44,597.20" stroke="#19cc19" stroke-width="1.6" fill="none" stroke-linejoin="round" clip-path="url(#cd)"/>
<path d="M438.58,462.75 L439.21,462.10 L439.83,461.45 L440.46,460.81 L441.09,460.17 L441.71,459.53 L442.34,458.89 L442.97,458.26 L443.59,457.62 L444.22,457.00 L444.85,456.37 L445.47,455.75 L446.10,455.13 L446.73,454.51 L447.35,453.90 L447.98,453.29 L448.61,452.68 L449.23,452.08 L449.86,451.47 L450.49,450.88 L451.11,450.28 L451.74,449.69 L452.37,449.10 L453.00,448.51 L453.62,447.92 L454.25,447.34 L454.88,446.76 L455.50,446.19 L456.13,445.61 L456.76,445.04 L457.38,444.48 L458.01,443.91 L458.64,443.35 L459.26,442.79 L459.89,442.24 L460.52,441.68 L461.14,441.13 L461.77,440.59 L462.40,440.04 L463.02,439.50 L463.65,438.96 L464.28,438.43 L464.90,437.89 L465.53,437.36 L466.16,436.84 L466.78,436.31 L467.41,435.79 L468.04,435.27 L468.66,434.76 L469.29,434.25 L469.92,433.74 L470.54,433.23 L471.17,432.72 L471.80,432.22 L472.42,431.73 L473.05,431.23 L473.68,430.74 L474.30,430.25 L474.93,429.76 L475.56,429.28 L476.18,428.80 L476.81,428.32 L477.44,427.85 L478.07,427.37 L478.69,426.90 L479.32,426.44 L479.95,425.97 L480.57,425.51 L481.20,425.06 L481.83,424.60 L482.45,424.15 L483.08,423.70 L483.71,423.26 L484.33,422.81 L484.96,422.37 L485.59,421.93 L486.21,421.50 L486.84,421.07 L487.47,420.64 L488.09,420.21 L488.72,419.79 L489.35,419.37 L489.97,418.95 L490.60,418.54 L491.23,418.13 L491.85,417.72 L492.48,417.31 L493.11,416.91 L493.73,416.51 L494.36,416.11 L494.99,415.72 L495.61,415.33 L496.24,414.94 L496.87,414.55 L497.49,414.17 L498.12,413.79 L498.75,413.42 L499.37,413.04 L500.00,412.67 L500.63,412.30 L501.25,411.94 L501.88,411.57 L502.51,411.22 L503.14,410.86 L503.76,410.50 L504.39,410.15 L505.02,409.81 L505.64,409.46 L506.27,409.12 L506.90,408.78 L507.52,408.44 L508.15,408.11 L508.78,407.78 L509.40,407.45 L510.03,407.13 L510.66,406.80 L511.28,406.49 L511.91,406.17 L512.54,405.86 L513.16,405.55 L513.79,405.24 L514.42,404.93 L515.04,404.63 L515.67,404.33 L516.30,404.04 L516.92,403.74 L517.55,403.45 L518.18,403.17 L518.80,402.88 L519.43,402.60 L520.06,402.32 L520.68,402.05 L521.31,401.77 L521.94,401.50 L522.56,401.24 L523.19,400.97 L523.82,400.71 L524.44,400.45 L525.07,400.20 L525.70,399.94 L526.32,399.69 L526.95,399.45 L527.58,399.20 L528.21,398.96 L528.83,398.72 L529.46,398.49 L530.09,398.25 L530.71,398.02 L531.34,397.80 L531.97,397.57 L532.59,397.35 L533.22,397.13 L533.85,396.92 L534.47,396.71 L535.10,396.50 L535.73,396.29 L536.35,396.09 L536.98,395.89 L537.61,395.69 L538.23,395.49 L538.86,395.30 L539.49,395.11 L540.11,394.93 L540.74,394.74 L541.37,394.56 L541.99,394.38 L542.62,394.21 L543.25,394.04 L543.87,393.87 L544.50,393.70 L545.13,393.54 L545.75,393.38 L546.38,393.22 L547.01,393.07 L547.63,392.91 L548.26,392.77 L548.89,392.62 L549.51,392.48 L550.14,392.34 L550.77,392.20 L551.39,392.06 L552.02,391.93 L552.65,391.80 L553.28,391.68 L553.90,391.55 L554.53,391.43 L555.16,391.32 L555.78,391.20 L556.41,391.09 L557.04,390.98 L557.66,390.88 L558.29,390.77 L558.92,390.67 L559.54,390.58 L560.17,390.48 L560.80,390.39 L561.42,390.30 L562.05,390.22 L562.68,390.14 L563.30,390.06 L563.93,389.98 L564.56,389.90 L565.18,389.83 L565.81,389.77 L566.44,389.70 L567.06,389.64 L567.69,389.58 L568.32,389.52 L568.94,389.47 L569.57,389.42 L570.20,389.37 L570.82,389.32 L571.45,389.28 L572.08,389.24 L572.70,389.21 L573.33,389.17 L573.96,389.14 L574.58,389.11 L575.21,389.09 L575.84,389.07 L576.46,389.05 L577.09,389.03 L577.72,389.02 L578.35,389.01 L578.97,389.00 L579.60,388.99 L580.23,388.99 L580.85,388.99 L581.48,389.00 L582.11,389.00 L582.73,389.01 L583.36,389.03 L583.99,389.04 L584.61,389.06 L585.24,389.08 L585.87,389.10 L586.49,389.13 L587.12,389.16 L587.75,389.19 L588.37,389.23 L589.00,389.27 L589.63,389.31 L590.25,389.35 L590.88,389.40 L591.51,389.45 L592.13,389.50 L592.76,389.56 L593.39,389.62 L594.01,389.68 L594.64,389.74 L595.27,389.81 L595.89,389.88 L596.52,389.95 L597.15,390.03 L597.77,390.11 L598.40,390.19 L599.03,390.27 L599.65,390.36 L600.28,390.45 L600.91,390.54 L601.53,390.64 L602.16,390.74 L602.79,390.84 L603.42,390.95 L604.04,391.05 L604.67,391.16 L605.30,391.28 L605.92,391.39 L606.55,391.51 L607.18,391.63 L607.80,391.76 L608.43,391.89 L609.06,392.02 L609.68,392.15 L610.31,392.29 L610.94,392.43 L611.56,392.57 L612.19,392.71 L612.82,392.86 L613.44,393.01 L614.07,393.16 L614.70,393.32 L615.32,393.48 L615.95,393.64 L616.58,393.81 L617.20,393.98 L617.83,394.15 L618.46,394.32 L619.08,394.50 L619.71,394.68 L620.34,394.86 L620.96,395.04 L621.59,395.23 L622.22,395.42 L622.84,395.62 L623.47,395.81 L624.10,396.01 L624.72,396.22 L625.35,396.42 L625.98,396.63" stroke="#8f1fff" stroke-width="1.6" fill="none" stroke-linejoin="round" clip-path="url(#cd)"/>
<path d="M438.58,557.92 L438.89,556.35 L439.20,554.80 L439.52,553.26 L439.83,551.73 L440.14,550.21 L440.45,548.70 L440.77,547.20 L441.08,545.71 L441.39,544.24 L441.70,542.77 L442.01,541.31 L442.33,539.87 L442.64,538.44 L442.95,537.01 L443.26,535.60 L443.57,534.20 L443.89,532.81 L444.20,531.43 L444.51,530.06 L444.82,528.70 L445.14,527.35 L445.45,526.01 L445.76,524.69 L446.07,523.37 L446.38,522.06 L446.70,520.77 L447.01,519.49 L447.32,518.21 L447.63,516.95 L447.95,515.70 L448.26,514.46 L448.57,513.23 L448.88,512.01 L449.19,510.80 L449.51,509.60 L449.82,508.42 L450.13,507.24 L450.44,506.07 L450.75,504.92 L451.07,503.78 L451.38,502.64 L451.69,501.52 L452.00,500.41 L452.32,499.31 L452.63,498.22 L452.94,497.14 L453.25,496.07 L453.56,495.01 L453.88,493.96 L454.19,492.92 L454.50,491.90 L454.81,490.88 L455.13,489.88 L455.44,488.88 L455.75,487.90 L456.06,486.93 L456.37,485.97 L456.69,485.02 L457.00,484.08 L457.31,483.15 L457.62,482.23 L457.93,481.32 L458.25,480.42 L458.56,479.54 L458.87,478.66 L459.18,477.80 L459.50,476.94 L459.81,476.10 L460.12,475.27 L460.43,474.44 L460.74,473.63 L461.06,472.83 L461.37,472.04 L461.68,471.26 L461.99,470.50 L462.31,469.74 L462.62,468.99 L462.93,468.25 L463.24,467.53 L463.55,466.81 L463.87,466.11 L464.18,465.42 L464.49,464.74 L464.80,464.06 L465.11,463.40 L465.43,462.75 L465.74,462.11 L466.05,461.48 L466.36,460.87 L466.68,460.26 L466.99,459.66 L467.30,459.08 L467.61,458.50 L467.92,457.94 L468.24,457.38 L468.55,456.84 L468.86,456.31 L469.17,455.79 L469.49,455.28 L469.80,454.78 L470.11,454.29 L470.42,453.81 L470.73,453.34 L471.05,452.89 L471.36,452.44 L471.67,452.00 L471.98,451.58 L472.29,451.17 L472.61,450.76 L472.92,450.37 L473.23,449.99 L473.54,449.62 L473.86,449.26 L474.17,448.91 L474.48,448.57 L474.79,448.24 L475.10,447.92 L475.42,447.62 L475.73,447.32 L476.04,447.04 L476.35,446.76 L476.67,446.50 L476.98,446.24 L477.29,446.00 L477.60,445.77 L477.91,445.55 L478.23,445.34 L478.54,445.14 L478.85,444.95 L479.16,444.77 L479.47,444.61 L479.79,444.45 L480.10,444.31 L480.41,444.17 L480.72,444.05 L481.04,443.93 L481.35,443.83 L481.66,443.74 L481.97,443.66 L482.28,443.59 L482.60,443.53 L482.91,443.48 L483.22,443.44 L483.53,443.41 L483.85,443.40 L484.16,443.39 L484.47,443.40 L484.78,443.41 L485.09,443.44 L485.41,443.48 L485.72,443.52 L486.03,443.58 L486.34,443.65 L486.65,443.73 L486.97,443.82 L487.28,443.92 L487.59,444.04 L487.90,444.16 L488.22,444.29 L488.53,444.44 L488.84,444.59 L489.15,444.76 L489.46,444.93 L489.78,445.12 L490.09,445.32 L490.40,445.53 L490.71,445.75 L491.03,445.98 L491.34,446.22 L491.65,446.47 L491.96,446.73 L492.27,447.01 L492.59,447.29 L492.90,447.59 L493.21,447.89 L493.52,448.21 L493.83,448.53 L494.15,448.87 L494.46,449.22 L494.77,449.58 L495.08,449.95 L495.40,450.33 L495.71,450.72 L496.02,451.12 L496.33,451.54 L496.64,451.96 L496.96,452.40 L497.27,452.84 L497.58,453.30 L497.89,453.76 L498.21,454.24 L498.52,454.73 L498.83,455.23 L499.14,455.74 L499.45,456.26 L499.77,456.79 L500.08,457.33 L500.39,457.88 L500.70,458.44 L501.01,459.02 L501.33,459.60 L501.64,460.20 L501.95,460.81 L502.26,461.42 L502.58,462.05 L502.89,462.69 L503.20,463.34 L503.51,464.00 L503.82,464.67 L504.14,465.35 L504.45,466.04 L504.76,466.74 L505.07,467.46 L505.39,468.18 L505.70,468.92 L506.01,469.66 L506.32,470.42 L506.63,471.19 L506.95,471.96 L507.26,472.75 L507.57,473.55 L507.88,474.36 L508.19,475.18 L508.51,476.02 L508.82,476.86 L509.13,477.71 L509.44,478.57 L509.76,479.45 L510.07,480.33 L510.38,481.23 L510.69,482.14 L511.00,483.05 L511.32,483.98 L511.63,484.92 L511.94,485.87 L512.25,486.83 L512.57,487.80 L512.88,488.79 L513.19,489.78 L513.50,490.78 L513.81,491.80 L514.13,492.82 L514.44,493.86 L514.75,494.90 L515.06,495.96 L515.37,497.03 L515.69,498.11 L516.00,499.20 L516.31,500.30 L516.62,501.41 L516.94,502.53 L517.25,503.66 L517.56,504.80 L517.87,505.96 L518.18,507.12 L518.50,508.30 L518.81,509.48 L519.12,510.68 L519.43,511.89 L519.75,513.11 L520.06,514.34 L520.37,515.58 L520.68,516.83 L520.99,518.09 L521.31,519.36 L521.62,520.64 L521.93,521.93 L522.24,523.24 L522.55,524.55 L522.87,525.88 L523.18,527.22 L523.49,528.56 L523.80,529.92 L524.12,531.29 L524.43,532.67 L524.74,534.06 L525.05,535.46 L525.36,536.87 L525.68,538.29 L525.99,539.73 L526.30,541.17 L526.61,542.62 L526.93,544.09 L527.24,545.57 L527.55,547.05 L527.86,548.55 L528.17,550.06 L528.49,551.58 L528.80,553.11 L529.11,554.65 L529.42,556.20 L529.73,557.76 L530.05,559.33 L530.36,560.92 L530.67,562.51 L530.98,564.11 L531.30,565.73 L531.61,567.36 L531.92,568.99" stroke="#dd2222" stroke-width="1.6" fill="none" stroke-linejoin="round" clip-path="url(#cd)"/>
<circle cx="515.41" cy="381.27" r="2.3" fill="#00c400"/>
<circle cx="484.17" cy="443.39" r="2.3" fill="#ff0a0a"/>
<circle cx="576.94" cy="389.03" r="2.3" fill="#6a11ff"/>
<path d="M431.4,333.4 L718.6,333.4" stroke="#bdbdbd" stroke-width="1.9" fill="none"/>
<path d="M718.6,333.4 L718.6,588.7" stroke="#a8a8a8" stroke-width="1.3" fill="none"/>
<path d="M431.4,333.4 L431.4,588.7 L718.6,588.7" stroke="#c0c0c0" stroke-width="1.9" fill="none" stroke-linejoin="round"/>
<text x="20.73" y="9.00" font-size="10.9" fill="#000" textLength="20.52" lengthAdjust="spacingAndGlyphs">0.06</text>
<text x="20.73" y="51.58" font-size="10.9" fill="#000" textLength="20.40" lengthAdjust="spacingAndGlyphs">0.04</text>
<text x="20.73" y="94.17" font-size="10.9" fill="#000" textLength="20.64" lengthAdjust="spacingAndGlyphs">0.02</text>
<text x="20.73" y="136.75" font-size="10.9" fill="#000" textLength="20.64" lengthAdjust="spacingAndGlyphs">0.00</text>
<text x="16.32" y="179.33" font-size="10.9" fill="#000" textLength="25.10" lengthAdjust="spacingAndGlyphs">-0.02</text>
<text x="16.32" y="221.92" font-size="10.9" fill="#000" textLength="24.85" lengthAdjust="spacingAndGlyphs">-0.04</text>
<text x="16.32" y="264.50" font-size="10.9" fill="#000" textLength="24.98" lengthAdjust="spacingAndGlyphs">-0.06</text>
<text x="41.16" y="275.00" font-size="10" fill="#000" textLength="5.88" lengthAdjust="spacingAndGlyphs">0</text>
<text x="86.30" y="275.00" font-size="10" fill="#000" textLength="11.36" lengthAdjust="spacingAndGlyphs">50</text>
<text x="130.96" y="275.00" font-size="10" fill="#000" textLength="17.35" lengthAdjust="spacingAndGlyphs">100</text>
<text x="178.84" y="275.00" font-size="10" fill="#000" textLength="17.35" lengthAdjust="spacingAndGlyphs">150</text>
<text x="227.20" y="275.00" font-size="10" fill="#000" textLength="16.86" lengthAdjust="spacingAndGlyphs">200</text>
<text x="275.09" y="275.00" font-size="10" fill="#000" textLength="16.86" lengthAdjust="spacingAndGlyphs">250</text>
<text x="322.97" y="275.00" font-size="10" fill="#000" textLength="16.86" lengthAdjust="spacingAndGlyphs">300</text>
<text x="412.32" y="9.00" font-size="10.9" fill="#000" textLength="14.85" lengthAdjust="spacingAndGlyphs">3.0</text>
<text x="412.32" y="51.58" font-size="10.9" fill="#000" textLength="14.85" lengthAdjust="spacingAndGlyphs">2.0</text>
<text x="411.82" y="94.17" font-size="10.9" fill="#000" textLength="15.38" lengthAdjust="spacingAndGlyphs">1.0</text>
<text x="412.32" y="136.75" font-size="10.9" fill="#000" textLength="14.85" lengthAdjust="spacingAndGlyphs">0.0</text>
<text x="407.91" y="179.33" font-size="10.9" fill="#000" textLength="19.31" lengthAdjust="spacingAndGlyphs">-1.0</text>
<text x="407.91" y="221.92" font-size="10.9" fill="#000" textLength="19.31" lengthAdjust="spacingAndGlyphs">-2.0</text>
<text x="407.91" y="264.50" font-size="10.9" fill="#000" textLength="19.31" lengthAdjust="spacingAndGlyphs">-3.0</text>
<text x="428.26" y="275.00" font-size="10" fill="#000" textLength="5.88" lengthAdjust="spacingAndGlyphs">0</text>
<text x="496.88" y="275.00" font-size="10" fill="#000" textLength="11.88" lengthAdjust="spacingAndGlyphs">10</text>
<text x="569.22" y="275.00" font-size="10" fill="#000" textLength="11.36" lengthAdjust="spacingAndGlyphs">20</text>
<text x="641.07" y="275.00" font-size="10" fill="#000" textLength="11.36" lengthAdjust="spacingAndGlyphs">30</text>
<text x="713.26" y="275.00" font-size="10" fill="#000" textLength="11.00" lengthAdjust="spacingAndGlyphs">40</text>
<text x="32.80" y="337.30" font-size="10.9" fill="#000" textLength="6.19" lengthAdjust="spacingAndGlyphs">5</text>
<text x="32.80" y="379.85" font-size="10.9" fill="#000" textLength="6.19" lengthAdjust="spacingAndGlyphs">0</text>
<text x="28.39" y="422.40" font-size="10.9" fill="#000" textLength="10.52" lengthAdjust="spacingAndGlyphs">-5</text>
<text x="22.61" y="464.95" font-size="10.9" fill="#000" textLength="16.42" lengthAdjust="spacingAndGlyphs">-10</text>
<text x="22.61" y="507.50" font-size="10.9" fill="#000" textLength="16.29" lengthAdjust="spacingAndGlyphs">-15</text>
<text x="22.61" y="550.05" font-size="10.9" fill="#000" textLength="16.42" lengthAdjust="spacingAndGlyphs">-20</text>
<text x="22.61" y="592.60" font-size="10.9" fill="#000" textLength="16.29" lengthAdjust="spacingAndGlyphs">-25</text>
<text x="41.36" y="602.80" font-size="10" fill="#000" textLength="5.88" lengthAdjust="spacingAndGlyphs">0</text>
<text x="86.47" y="602.80" font-size="10" fill="#000" textLength="11.36" lengthAdjust="spacingAndGlyphs">50</text>
<text x="131.09" y="602.80" font-size="10" fill="#000" textLength="17.35" lengthAdjust="spacingAndGlyphs">100</text>
<text x="178.94" y="602.80" font-size="10" fill="#000" textLength="17.35" lengthAdjust="spacingAndGlyphs">150</text>
<text x="227.27" y="602.80" font-size="10" fill="#000" textLength="16.86" lengthAdjust="spacingAndGlyphs">200</text>
<text x="275.12" y="602.80" font-size="10" fill="#000" textLength="16.86" lengthAdjust="spacingAndGlyphs">250</text>
<text x="322.97" y="602.80" font-size="10" fill="#000" textLength="16.86" lengthAdjust="spacingAndGlyphs">300</text>
<text x="409.73" y="337.30" font-size="10.9" fill="#000" textLength="17.75" lengthAdjust="spacingAndGlyphs">200</text>
<text x="421.30" y="379.85" font-size="10.9" fill="#000" textLength="6.19" lengthAdjust="spacingAndGlyphs">0</text>
<text x="405.32" y="422.40" font-size="10.9" fill="#000" textLength="22.21" lengthAdjust="spacingAndGlyphs">-200</text>
<text x="405.32" y="464.95" font-size="10.9" fill="#000" textLength="22.21" lengthAdjust="spacingAndGlyphs">-400</text>
<text x="405.32" y="507.50" font-size="10.9" fill="#000" textLength="22.21" lengthAdjust="spacingAndGlyphs">-600</text>
<text x="405.32" y="550.05" font-size="10.9" fill="#000" textLength="22.21" lengthAdjust="spacingAndGlyphs">-800</text>
<text x="399.52" y="592.60" font-size="10.9" fill="#000" textLength="28.00" lengthAdjust="spacingAndGlyphs">-1000</text>
<text x="428.46" y="602.80" font-size="10" fill="#000" textLength="5.88" lengthAdjust="spacingAndGlyphs">0</text>
<text x="497.02" y="602.80" font-size="10" fill="#000" textLength="11.88" lengthAdjust="spacingAndGlyphs">10</text>
<text x="569.32" y="602.80" font-size="10" fill="#000" textLength="11.36" lengthAdjust="spacingAndGlyphs">20</text>
<text x="641.12" y="602.80" font-size="10" fill="#000" textLength="11.36" lengthAdjust="spacingAndGlyphs">30</text>
<text x="713.26" y="602.80" font-size="10" fill="#000" textLength="11.00" lengthAdjust="spacingAndGlyphs">40</text>
<text x="157.12" y="291.50" font-size="11.5" fill="#000" textLength="61.93" lengthAdjust="spacingAndGlyphs">N [Cycles]</text>
<text x="544.32" y="291.50" font-size="11.5" fill="#000" textLength="61.93" lengthAdjust="spacingAndGlyphs">N [Cycles]</text>
<text x="157.12" y="620.00" font-size="11.5" fill="#000" textLength="61.93" lengthAdjust="spacingAndGlyphs">N [Cycles]</text>
<text x="544.32" y="620.00" font-size="11.5" fill="#000" textLength="61.93" lengthAdjust="spacingAndGlyphs">N [Cycles]</text>
<text x="240.62" y="22.90" font-size="10" fill="#000" textLength="27.60" lengthAdjust="spacingAndGlyphs">Cycle</text>
<text x="281.85" y="22.90" font-size="10.8" fill="#000" textLength="8.23" lengthAdjust="spacingAndGlyphs">E</text>
<text x="289.95" y="26.20" font-size="7.0" fill="#000" textLength="18.74" lengthAdjust="spacingAndGlyphs">upper</text>
<text x="240.77" y="40.40" font-size="9.6" fill="#000" textLength="38.22" lengthAdjust="spacingAndGlyphs">N = 140</text>
<line x1="236.1" y1="42.90" x2="283.2" y2="42.90" stroke="#222" stroke-width="1.4"/>
<text x="291.28" y="45.70" font-size="10" fill="#000" textLength="25.48" lengthAdjust="spacingAndGlyphs">4.2 V</text>
<text x="240.77" y="57.20" font-size="9.6" fill="#00eeff" textLength="32.61" lengthAdjust="spacingAndGlyphs">N = 88</text>
<line x1="236.1" y1="59.70" x2="283.2" y2="59.70" stroke="#22eeff" stroke-width="1.4"/>
<text x="291.28" y="62.50" font-size="10" fill="#000" textLength="25.48" lengthAdjust="spacingAndGlyphs">4.3 V</text>
<text x="240.77" y="74.00" font-size="9.6" fill="#ff11cc" textLength="32.20" lengthAdjust="spacingAndGlyphs">N = 63</text>
<line x1="236.1" y1="76.50" x2="283.2" y2="76.50" stroke="#ff22bb" stroke-width="1.4"/>
<text x="291.28" y="79.30" font-size="10" fill="#000" textLength="25.48" lengthAdjust="spacingAndGlyphs">4.4 V</text>
<text x="240.77" y="90.80" font-size="9.6" fill="#1111dd" textLength="32.32" lengthAdjust="spacingAndGlyphs">N = 70</text>
<line x1="236.1" y1="93.30" x2="283.2" y2="93.30" stroke="#4444ff" stroke-width="1.4"/>
<text x="291.28" y="96.10" font-size="10" fill="#000" textLength="25.48" lengthAdjust="spacingAndGlyphs">4.5 V</text>
<text x="246.12" y="345.50" font-size="10" fill="#000" textLength="27.60" lengthAdjust="spacingAndGlyphs">Cycle</text>
<text x="292.25" y="345.50" font-size="10.8" fill="#000" textLength="8.23" lengthAdjust="spacingAndGlyphs">E</text>
<text x="300.35" y="348.80" font-size="7.0" fill="#000" textLength="18.74" lengthAdjust="spacingAndGlyphs">upper</text>
<text x="246.27" y="359.60" font-size="9.6" fill="#000" textLength="32.20" lengthAdjust="spacingAndGlyphs">N = 95</text>
<line x1="244.1" y1="362.10" x2="291.2" y2="362.10" stroke="#222" stroke-width="1.4"/>
<text x="299.28" y="364.90" font-size="10" fill="#000" textLength="25.48" lengthAdjust="spacingAndGlyphs">4.2 V</text>
<text x="246.27" y="376.40" font-size="9.6" fill="#00eeff" textLength="32.20" lengthAdjust="spacingAndGlyphs">N = 68</text>
<line x1="244.1" y1="378.90" x2="291.2" y2="378.90" stroke="#22eeff" stroke-width="1.4"/>
<text x="299.28" y="381.70" font-size="10" fill="#000" textLength="25.48" lengthAdjust="spacingAndGlyphs">4.3 V</text>
<text x="246.27" y="393.20" font-size="9.6" fill="#ff11cc" textLength="32.32" lengthAdjust="spacingAndGlyphs">N = 70</text>
<line x1="244.1" y1="395.70" x2="291.2" y2="395.70" stroke="#ff22bb" stroke-width="1.4"/>
<text x="299.28" y="398.50" font-size="10" fill="#000" textLength="25.48" lengthAdjust="spacingAndGlyphs">4.4 V</text>
<text x="246.27" y="410.00" font-size="9.6" fill="#1111dd" textLength="32.32" lengthAdjust="spacingAndGlyphs">N = 60</text>
<line x1="244.1" y1="412.50" x2="291.2" y2="412.50" stroke="#4444ff" stroke-width="1.4"/>
<text x="299.28" y="415.30" font-size="10" fill="#000" textLength="25.48" lengthAdjust="spacingAndGlyphs">4.5 V</text>
<text x="629.62" y="22.80" font-size="10" fill="#000" textLength="27.60" lengthAdjust="spacingAndGlyphs">Cycle</text>
<text x="677.25" y="22.80" font-size="10.8" fill="#000" textLength="8.23" lengthAdjust="spacingAndGlyphs">E</text>
<text x="685.35" y="26.10" font-size="7.0" fill="#000" textLength="18.74" lengthAdjust="spacingAndGlyphs">upper</text>
<text x="629.77" y="36.40" font-size="9.6" fill="#11cc11" textLength="25.98" lengthAdjust="spacingAndGlyphs">N = 7</text>
<line x1="627.5" y1="38.90" x2="675" y2="38.90" stroke="#22cc22" stroke-width="1.4"/>
<text x="682.68" y="41.70" font-size="10" fill="#000" textLength="25.48" lengthAdjust="spacingAndGlyphs">4.6 V</text>
<text x="629.77" y="53.50" font-size="9.6" fill="#7711ff" textLength="32.51" lengthAdjust="spacingAndGlyphs">N = 18</text>
<line x1="627.5" y1="56.00" x2="675" y2="56.00" stroke="#8f1fff" stroke-width="1.4"/>
<text x="682.68" y="58.80" font-size="10" fill="#000" textLength="25.48" lengthAdjust="spacingAndGlyphs">4.7 V</text>
<text x="629.77" y="70.60" font-size="9.6" fill="#ee1111" textLength="26.09" lengthAdjust="spacingAndGlyphs">N = 5</text>
<line x1="627.5" y1="73.10" x2="675" y2="73.10" stroke="#dd2222" stroke-width="1.4"/>
<text x="682.68" y="75.90" font-size="10" fill="#000" textLength="25.48" lengthAdjust="spacingAndGlyphs">4.8 V</text>
<text x="629.52" y="407.40" font-size="10" fill="#000" textLength="27.60" lengthAdjust="spacingAndGlyphs">Cycle</text>
<text x="674.75" y="407.40" font-size="10.8" fill="#000" textLength="8.23" lengthAdjust="spacingAndGlyphs">E</text>
<text x="682.85" y="410.70" font-size="7.0" fill="#000" textLength="18.74" lengthAdjust="spacingAndGlyphs">upper</text>
<text x="629.67" y="421.10" font-size="9.6" fill="#11cc11" textLength="32.52" lengthAdjust="spacingAndGlyphs">N = 12</text>
<line x1="624.8" y1="423.60" x2="672.4" y2="423.60" stroke="#22cc22" stroke-width="1.4"/>
<text x="680.18" y="426.80" font-size="10" fill="#000" textLength="25.48" lengthAdjust="spacingAndGlyphs">4.6 V</text>
<text x="629.67" y="437.90" font-size="9.6" fill="#7711ff" textLength="32.52" lengthAdjust="spacingAndGlyphs">N = 20</text>
<line x1="624.8" y1="440.40" x2="672.4" y2="440.40" stroke="#8f1fff" stroke-width="1.4"/>
<text x="680.18" y="443.60" font-size="10" fill="#000" textLength="25.48" lengthAdjust="spacingAndGlyphs">4.7 V</text>
<text x="629.67" y="454.70" font-size="9.6" fill="#ee1111" textLength="25.98" lengthAdjust="spacingAndGlyphs">N = 7</text>
<line x1="624.8" y1="457.20" x2="672.4" y2="457.20" stroke="#dd2222" stroke-width="1.4"/>
<text x="680.18" y="460.40" font-size="10" fill="#000" textLength="25.48" lengthAdjust="spacingAndGlyphs">4.8 V</text>
<text x="251.69" y="205.60" font-size="9.6" fill="#ff1111" textLength="54.31" lengthAdjust="spacingAndGlyphs">Aggravated</text>
<text x="251.58" y="216.60" font-size="9.6" fill="#ff1111" textLength="59.27" lengthAdjust="spacingAndGlyphs">Degradation</text>
<text x="643.69" y="195.00" font-size="9.6" fill="#ff1111" textLength="54.31" lengthAdjust="spacingAndGlyphs">Aggravated</text>
<text x="643.58" y="206.00" font-size="9.6" fill="#ff1111" textLength="59.27" lengthAdjust="spacingAndGlyphs">Degradation</text>
<text x="159.29" y="542.10" font-size="9.6" fill="#ff1111" textLength="54.31" lengthAdjust="spacingAndGlyphs">Aggravated</text>
<text x="159.18" y="553.10" font-size="9.6" fill="#ff1111" textLength="59.27" lengthAdjust="spacingAndGlyphs">Degradation</text>
<text x="626.39" y="510.00" font-size="9.6" fill="#ff1111" textLength="54.31" lengthAdjust="spacingAndGlyphs">Aggravated</text>
<text x="626.28" y="521.00" font-size="9.6" fill="#ff1111" textLength="59.27" lengthAdjust="spacingAndGlyphs">Degradation</text>
<text x="305.05" y="248.80" font-size="13.8" fill="#000" textLength="19.00" lengthAdjust="spacingAndGlyphs">(a)</text>
<text x="691.67" y="248.10" font-size="13.8" fill="#000" textLength="19.30" lengthAdjust="spacingAndGlyphs">(b)</text>
<text x="305.12" y="576.20" font-size="13.8" fill="#000" textLength="18.75" lengthAdjust="spacingAndGlyphs">(c)</text>
<text x="691.26" y="576.60" font-size="13.8" fill="#000" textLength="19.62" lengthAdjust="spacingAndGlyphs">(d)</text>
<g transform="translate(10.60,0) rotate(-90)">
<text x="-204.48" y="0.00" font-size="11.8" fill="#000" textLength="9.46" lengthAdjust="spacingAndGlyphs">d</text>
</g>
<g transform="translate(10.60,0) rotate(-90)" font-weight="normal">
<text x="-195.11" y="0.00" font-size="11.8" fill="#000" textLength="8.14" lengthAdjust="spacingAndGlyphs">η</text>
</g>
<g transform="translate(14.60,0) rotate(-90)" font-weight="normal">
<text x="-189.75" y="0.00" font-size="8.0" fill="#000" textLength="38.55" lengthAdjust="spacingAndGlyphs">Coulombic</text>
</g>
<g transform="translate(10.60,0) rotate(-90)">
<text x="-151.15" y="0.00" font-size="11.8" fill="#000" textLength="23.39" lengthAdjust="spacingAndGlyphs">/dN</text>
</g>
<g transform="translate(10.60,0) rotate(-90)">
<text x="-124.22" y="0.00" font-size="11.8" fill="#000" textLength="62.26" lengthAdjust="spacingAndGlyphs">[%/Cycles]</text>
</g>
<g transform="translate(398.00,0) rotate(-90)">
<text x="-204.48" y="0.00" font-size="11.8" fill="#000" textLength="9.46" lengthAdjust="spacingAndGlyphs">d</text>
</g>
<g transform="translate(398.00,0) rotate(-90)" font-weight="normal">
<text x="-195.11" y="0.00" font-size="11.8" fill="#000" textLength="8.14" lengthAdjust="spacingAndGlyphs">η</text>
</g>
<g transform="translate(402.20,0) rotate(-90)" font-weight="normal">
<text x="-189.75" y="0.00" font-size="8.0" fill="#000" textLength="38.55" lengthAdjust="spacingAndGlyphs">Coulombic</text>
</g>
<g transform="translate(398.00,0) rotate(-90)">
<text x="-151.15" y="0.00" font-size="11.8" fill="#000" textLength="23.39" lengthAdjust="spacingAndGlyphs">/dN</text>
</g>
<g transform="translate(398.00,0) rotate(-90)">
<text x="-123.22" y="0.00" font-size="11.8" fill="#000" textLength="62.15" lengthAdjust="spacingAndGlyphs">[%/Cycles]</text>
</g>
<g transform="translate(13.20,0) rotate(-90)">
<text x="-522.45" y="0.00" font-size="11.5" fill="#000" textLength="123.34" lengthAdjust="spacingAndGlyphs">dQ/dN [mAh/Cycles]</text>
</g>
<g transform="translate(401.50,0) rotate(-90)">
<text x="-522.45" y="0.00" font-size="11.5" fill="#000" textLength="122.94" lengthAdjust="spacingAndGlyphs">dQ/dN [mAh/Cycles]</text>
</g>
</svg></body></html>
